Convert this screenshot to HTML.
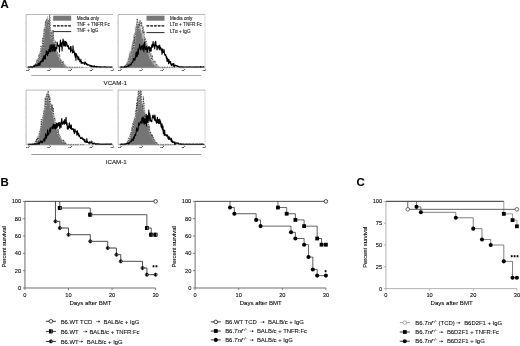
<!DOCTYPE html>
<html><head><meta charset="utf-8"><title>Figure</title>
<style>html,body{margin:0;padding:0;background:#fff;overflow:hidden}svg{display:block;font-family:"Liberation Sans", sans-serif}text{stroke:#000;stroke-width:.09px}</style>
</head><body>
<svg width="520" height="346" viewBox="0 0 520 346">
<defs><filter id="soft" x="0" y="0" width="520" height="346" filterUnits="userSpaceOnUse"><feGaussianBlur stdDeviation="0.28"/></filter></defs>
<rect width="520" height="346" fill="#fff"/>
<g filter="url(#soft)">
<text x="0.6" y="8.2" font-size="11.4" font-weight="bold" fill="#000">A</text>
<text x="0.6" y="185.7" font-size="11.4" font-weight="bold" fill="#000">B</text>
<text x="356.4" y="186.2" font-size="11.4" font-weight="bold" fill="#000">C</text>
<path d="M26.1 67.6V14.5H113" fill="none" stroke="#a8a8a8" stroke-width="0.8"/>
<path d="M26.1 67.6H113" fill="none" stroke="#999" stroke-width="0.6"/>
<line x1="24.9" y1="58.75" x2="26.1" y2="58.75" stroke="#bbb" stroke-width="0.4"/>
<line x1="24.9" y1="49.9" x2="26.1" y2="49.9" stroke="#bbb" stroke-width="0.4"/>
<line x1="24.9" y1="41.05" x2="26.1" y2="41.05" stroke="#bbb" stroke-width="0.4"/>
<line x1="24.9" y1="32.2" x2="26.1" y2="32.2" stroke="#bbb" stroke-width="0.4"/>
<line x1="24.9" y1="23.35" x2="26.1" y2="23.35" stroke="#bbb" stroke-width="0.4"/>
<path d="M28.1 67.6L28.1 67.6L28.5 67.6L28.9 67.6L29.3 67.6L29.7 67.6L30.1 67.6L30.5 67.6L30.9 67.6L31.3 67.6L31.7 67.6L32.1 67.6L32.5 67.6L32.9 67.6L33.3 67.05L33.7 66.75L34.1 66.11L34.5 66.19L34.9 65.82L35.3 64.11L35.7 63.88L36.1 63.25L36.5 63.41L36.9 61.75L37.3 62.17L37.7 58.93L38.1 59.28L38.5 59.59L38.9 54.81L39.3 56.28L39.7 54.27L40.1 52.53L40.5 51.53L40.9 51.06L41.3 50.77L41.7 51.23L42.1 48.66L42.5 45.48L42.9 38.83L43.3 37.82L43.7 32.94L44.1 34.62L44.5 35.72L44.9 28.07L45.3 22L45.7 24.25L46.1 26.78L46.5 24.9L46.9 24.97L47.3 20.32L47.7 16.1L48.1 20.01L48.5 22.76L48.9 26.36L49.3 21.04L49.7 25.87L50.1 22.82L50.5 32.6L50.9 28.98L51.3 32.51L51.7 31.92L52.1 39.58L52.5 38.52L52.9 38.68L53.3 36.37L53.7 37.82L54.1 44.46L54.5 42.12L54.9 42.95L55.3 44.65L55.7 45.41L56.1 49.61L56.5 48.07L56.9 51.98L57.3 51.66L57.7 54.39L58.1 53.17L58.5 54.52L58.9 57.69L59.3 59.86L59.7 56.72L60.1 60.27L60.5 59.59L60.9 59.2L61.3 61.41L61.7 61.81L62.1 65.29L62.5 63.07L62.9 63.04L63.3 65.14L63.7 63.42L64.1 63.57L64.5 66.09L64.9 65.31L65.3 65.56L65.7 66.47L66.1 65.71L66.5 66.71L66.9 67.6L67.3 67.6L67.7 67.6L68.1 67.6L68.5 67.6L68.9 67.6L69.3 67.6L69.7 67.6L70.1 67.6L70.5 67.6L70.9 67.6L71.3 67.6L71.7 67.6L72.1 67.6L72.5 67.6L72.9 67.6L73.3 67.6L73.7 67.6L74.1 67.6L74.5 67.6L74.9 67.6L75.3 67.6L75.7 67.6L76.1 67.6L76.5 67.6L76.9 67.6L77.3 67.6L77.7 67.6L78.1 67.6L78.5 67.6L78.9 67.6L79.3 67.6L79.7 67.6L80.1 67.6L80.5 67.6L80.9 67.6L81.3 67.6L81.7 67.6L82.1 67.6L82.5 67.6L82.9 67.6L83.3 67.6L83.7 67.6L84.1 67.6L84.1 67.6Z" fill="#b8b8b8" stroke="#aaa" stroke-width="0.4" stroke-linejoin="round"/>
<path d="M29.1 67.6L29.1 67.6L29.5 67.6L29.9 67.6L30.3 67.6L30.7 67.6L31.1 67.6L31.5 67.6L31.9 67.6L32.3 67.6L32.7 67.6L33.1 67.5L33.5 67.24L33.9 66.08L34.3 66.37L34.7 65.11L35.1 64.98L35.5 64.67L35.9 63.43L36.3 63.53L36.7 61.83L37.1 60.37L37.5 59.09L37.9 59.26L38.3 58.13L38.7 57.9L39.1 56.16L39.5 54.75L39.9 53.4L40.3 52.63L40.7 50.47L41.1 49.32L41.5 48.28L41.9 46.65L42.3 45.61L42.7 41.03L43.1 38.72L43.5 37.32L43.9 31.04L44.3 28.74L44.7 30.08L45.1 27L45.5 23.7L45.9 28.77L46.3 24.55L46.7 21.09L47.1 21.2L47.5 23.59L47.9 18.06L48.3 24.46L48.7 23.8L49.1 23.56L49.5 29.79L49.9 26.9L50.3 29.54L50.7 31.76L51.1 34.14L51.5 32.66L51.9 34.12L52.3 39.15L52.7 36.82L53.1 38.63L53.5 42.41L53.9 43.35L54.3 43.08L54.7 46.26L55.1 50.36L55.5 47.96L55.9 50.13L56.3 52.3L56.7 53.53L57.1 55.73L57.5 53.88L57.9 55.95L58.3 55.53L58.7 56.72L59.1 59.13L59.5 60.33L59.9 60.64L60.3 59.16L60.7 60.11L61.1 62.26L61.5 62.79L61.9 62.12L62.3 64.61L62.7 63.71L63.1 64.52L63.5 64.57L63.9 65.39L64.3 66.1L64.7 66.25L65.1 66.47L65.5 66.9L65.9 67.48L66.3 67.6L66.7 67.54L67.1 67.6L67.5 67.6L67.9 67.6L68.3 67.6L68.7 67.6L69.1 67.6L69.5 67.6L69.9 67.6L70.3 67.6L70.7 67.6L71.1 67.6L71.5 67.6L71.9 67.6L72.3 67.6L72.7 67.6L73.1 67.6L73.5 67.6L73.9 67.6L74.3 67.6L74.7 67.6L75.1 67.6L75.5 67.6L75.9 67.6L76.3 67.6L76.7 67.6L77.1 67.6L77.5 67.6L77.9 67.6L77.9 67.6Z" fill="#757575" stroke="#7d7d7d" stroke-width="0.3" stroke-linejoin="round"/>
<polyline points="29.1,67.19 29.46,67.26 29.82,67.19 30.18,67.15 30.54,67.2 30.9,67.22 31.26,67.18 31.62,67.13 31.98,67.06 32.34,67.19 32.7,66.84 33.06,67.23 33.42,67.08 33.78,66.99 34.14,66.57 34.5,65.55 34.86,64.57 35.22,66.6 35.58,63.71 35.94,65.56 36.3,62.93 36.66,59.85 37.02,60.57 37.38,61.66 37.74,61.18 38.1,58.84 38.46,58.32 38.82,54.37 39.18,54.84 39.54,56.64 39.9,60.69 40.26,52.08 40.62,49.93 40.98,45.46 41.34,47.39 41.7,47.28 42.06,46.06 42.42,45.96 42.78,37.42 43.14,41.73 43.5,47.46 43.86,36.85 44.22,28.93 44.58,30.69 44.94,30.81 45.3,23.3 45.66,20.76 46.02,25.95 46.38,22.72 46.74,18.8 47.1,23.1 47.46,25.03 47.82,22.78 48.18,24.1 48.54,21.63 48.9,19.73 49.26,28.96 49.62,14.8 49.98,16.7 50.34,36.71 50.7,36.6 51.06,39.26 51.42,31.97 51.78,32.6 52.14,30.55 52.5,37.81 52.86,41.55 53.22,30.12 53.58,39.45 53.94,39.53 54.3,42.42 54.66,47.13 55.02,44.1 55.38,40.79 55.74,47.54 56.1,45.61 56.46,50.82 56.82,52.6 57.18,53.51 57.54,51.91 57.9,56.07 58.26,56.23 58.62,57.25 58.98,57.14 59.34,55.34 59.7,54.24 60.06,60.57 60.42,59.2 60.78,60.45 61.14,60.41 61.5,60.23 61.86,62.37 62.22,64.8 62.58,61.67 62.94,63.5 63.3,61.43 63.66,64.71 64.02,65.3 64.38,66.31 64.74,64.42 65.1,64.61 65.46,65.35 65.82,67.17 66.18,66.48 66.54,66.43 66.9,67.07 67.26,67.13 67.62,67.21 67.98,67.27 68.34,67 68.7,67.29 69.06,67.02 69.42,67.13 69.78,67.07 70.14,67.25 70.5,67.07 70.86,67.26 71.22,67.29 71.58,67.17 71.94,67.29 72.3,67.17 72.66,67.26 73.02,67.15 73.38,67.22 73.74,67.13 74.1,67.2 74.46,67.19 74.82,67.16 75.18,67.11 75.54,67.2 75.9,67.26 76.26,67.18 76.62,67.29 76.98,67.22 77.34,67.13 77.7,67.25 78.06,67.21 78.42,67.28 78.78,67.14 79.14,67.29 79.5,67.1 79.86,67.24 80.22,67.24 80.58,67.21 80.94,67.15 81.3,67.14 81.66,67.09 82.02,67.25 82.38,67.26 82.74,67.24 83.1,67.22 83.46,67.28 83.82,67.21" fill="none" stroke="#fff" stroke-width="0.7" stroke-linejoin="round"/>
<polyline points="29.1,67.19 29.46,67.26 29.82,67.19 30.18,67.15 30.54,67.2 30.9,67.22 31.26,67.18 31.62,67.13 31.98,67.06 32.34,67.19 32.7,66.84 33.06,67.23 33.42,67.08 33.78,66.99 34.14,66.57 34.5,65.55 34.86,64.57 35.22,66.6 35.58,63.71 35.94,65.56 36.3,62.93 36.66,59.85 37.02,60.57 37.38,61.66 37.74,61.18 38.1,58.84 38.46,58.32 38.82,54.37 39.18,54.84 39.54,56.64 39.9,60.69 40.26,52.08 40.62,49.93 40.98,45.46 41.34,47.39 41.7,47.28 42.06,46.06 42.42,45.96 42.78,37.42 43.14,41.73 43.5,47.46 43.86,36.85 44.22,28.93 44.58,30.69 44.94,30.81 45.3,23.3 45.66,20.76 46.02,25.95 46.38,22.72 46.74,18.8 47.1,23.1 47.46,25.03 47.82,22.78 48.18,24.1 48.54,21.63 48.9,19.73 49.26,28.96 49.62,14.8 49.98,16.7 50.34,36.71 50.7,36.6 51.06,39.26 51.42,31.97 51.78,32.6 52.14,30.55 52.5,37.81 52.86,41.55 53.22,30.12 53.58,39.45 53.94,39.53 54.3,42.42 54.66,47.13 55.02,44.1 55.38,40.79 55.74,47.54 56.1,45.61 56.46,50.82 56.82,52.6 57.18,53.51 57.54,51.91 57.9,56.07 58.26,56.23 58.62,57.25 58.98,57.14 59.34,55.34 59.7,54.24 60.06,60.57 60.42,59.2 60.78,60.45 61.14,60.41 61.5,60.23 61.86,62.37 62.22,64.8 62.58,61.67 62.94,63.5 63.3,61.43 63.66,64.71 64.02,65.3 64.38,66.31 64.74,64.42 65.1,64.61 65.46,65.35 65.82,67.17 66.18,66.48 66.54,66.43 66.9,67.07 67.26,67.13 67.62,67.21 67.98,67.27 68.34,67 68.7,67.29 69.06,67.02 69.42,67.13 69.78,67.07 70.14,67.25 70.5,67.07 70.86,67.26 71.22,67.29 71.58,67.17 71.94,67.29 72.3,67.17 72.66,67.26 73.02,67.15 73.38,67.22 73.74,67.13 74.1,67.2 74.46,67.19 74.82,67.16 75.18,67.11 75.54,67.2 75.9,67.26 76.26,67.18 76.62,67.29 76.98,67.22 77.34,67.13 77.7,67.25 78.06,67.21 78.42,67.28 78.78,67.14 79.14,67.29 79.5,67.1 79.86,67.24 80.22,67.24 80.58,67.21 80.94,67.15 81.3,67.14 81.66,67.09 82.02,67.25 82.38,67.26 82.74,67.24 83.1,67.22 83.46,67.28 83.82,67.21" fill="none" stroke="#111" stroke-width="0.62" stroke-dasharray="1.5 1.0" stroke-linejoin="round"/>
<polyline points="28.1,67.09 28.43,66.92 28.76,66.84 29.09,66.95 29.42,67.1 29.75,66.99 30.08,66.99 30.41,66.73 30.74,66.88 31.07,67.1 31.4,66.91 31.73,66.84 32.06,66.55 32.39,66.87 32.72,67.1 33.05,66.92 33.38,66.71 33.71,66.04 34.04,65.33 34.37,66.69 34.7,66.05 35.03,65.71 35.36,66.03 35.69,65.78 36.02,64.8 36.35,64.91 36.68,65.98 37.01,65.56 37.34,65.59 37.67,65.52 38,63.7 38.33,65.19 38.66,63.18 38.99,65.21 39.32,64.87 39.65,62.72 39.98,65.27 40.31,62.69 40.64,61.29 40.97,62.31 41.3,61.39 41.63,61.74 41.96,60.12 42.29,61.7 42.62,59.83 42.95,58.16 43.28,61.18 43.61,57.99 43.94,55.65 44.27,58.67 44.6,56.52 44.93,55.8 45.26,59.11 45.59,54.39 45.92,55.09 46.25,50.79 46.58,51.51 46.91,54.19 47.24,53.09 47.57,55.62 47.9,51.24 48.23,53.36 48.56,53.4 48.89,49.46 49.22,50.42 49.55,51.45 49.88,46.82 50.21,45.08 50.54,51.45 50.87,51.82 51.2,49.73 51.53,48.33 51.86,44.43 52.19,46.83 52.52,51.27 52.85,45.82 53.18,51.08 53.51,46.52 53.84,44.54 54.17,44.69 54.5,51.11 54.83,48.64 55.16,47.09 55.49,50.75 55.82,48.72 56.15,48.33 56.48,47.26 56.81,48.98 57.14,42.14 57.47,43.75 57.8,45.08 58.13,46.1 58.46,46.13 58.79,45.62 59.12,45.83 59.45,51.99 59.78,44.15 60.11,45.96 60.44,39.98 60.77,43.75 61.1,46.68 61.43,44.41 61.76,42.78 62.09,50.99 62.42,41.69 62.75,43.55 63.08,39 63.41,41.76 63.74,45.97 64.07,41.02 64.4,43.15 64.73,45.86 65.06,44.39 65.39,41.28 65.72,46.2 66.05,41.99 66.38,42.33 66.71,43.1 67.04,44.35 67.37,46.79 67.7,45.71 68.03,45.55 68.36,45.93 68.69,48.95 69.02,49.01 69.35,48.34 69.68,48.91 70.01,49.2 70.34,46.5 70.67,52.18 71,46.57 71.33,50.09 71.66,50.02 71.99,50.69 72.32,50.8 72.65,53.03 72.98,45.86 73.31,50.16 73.64,52.35 73.97,50.91 74.3,51.97 74.63,54.93 74.96,55.56 75.29,57.32 75.62,53.02 75.95,60.28 76.28,53.79 76.61,54.66 76.94,56.21 77.27,55.87 77.6,57.09 77.93,59.42 78.26,59.93 78.59,56.7 78.92,58.91 79.25,58.72 79.58,59.77 79.91,61.9 80.24,61.52 80.57,60.57 80.9,59.33 81.23,63.49 81.56,61.42 81.89,62.08 82.22,62.17 82.55,63.48 82.88,63.15 83.21,62.44 83.54,62.96 83.87,63.06 84.2,63.45 84.53,64.41 84.86,61.8 85.19,63.08 85.52,62.28 85.85,63.47 86.18,64.63 86.51,63.4 86.84,64.07 87.17,64.78 87.5,65.11 87.83,64.25 88.16,65.14 88.49,64.83 88.82,64.99 89.15,65.09 89.48,65.16 89.81,66.06 90.14,66.21 90.47,65.53 90.8,65.31 91.13,66.41 91.46,66.7 91.79,65.65 92.12,65.97 92.45,66.34 92.78,66.7 93.11,66.1 93.44,66.87 93.77,67.03 94.1,65.77 94.43,66.03 94.76,66.29 95.09,66.89 95.42,66.67 95.75,66.75 96.08,66.43 96.41,66.8 96.74,66.33 97.07,66.98 97.4,66.71 97.73,66.79 98.06,67 98.39,66.79 98.72,66.8 99.05,66.81 99.38,66.98 99.71,66.75 100.04,66.9 100.37,67.1 100.7,66.74 101.03,66.82 101.36,67.02 101.69,66.92 102.02,66.94 102.35,67.01 102.68,66.94 103.01,67.02 103.34,67.05 103.67,67 104,66.62 104.33,66.9 104.66,67 104.99,66.91 105.32,66.9 105.65,66.87 105.98,66.96 106.31,67.07 106.64,67.03 106.97,67.1 107.3,66.94 107.63,67.1 107.96,67.01 108.29,67 108.62,67.07 108.95,67.02 109.28,67.06 109.61,67.05 109.94,67.06 110.27,67.08 110.6,67.1 110.93,67.09 111.26,67.07 111.59,66.85 111.92,67.06" fill="none" stroke="#000" stroke-width="1.1" stroke-linejoin="round" stroke-linecap="round"/>
<line x1="28.5" y1="67.6" x2="28.5" y2="68.9" stroke="#777" stroke-width="0.5"/>
<text x="27.9" y="70.8" font-size="2.5" fill="#333" stroke="none" text-anchor="middle">10<tspan dy="-0.9" font-size="1.7">0</tspan></text>
<line x1="49.62" y1="67.6" x2="49.62" y2="68.9" stroke="#777" stroke-width="0.5"/>
<text x="49.02" y="70.8" font-size="2.5" fill="#333" stroke="none" text-anchor="middle">10<tspan dy="-0.9" font-size="1.7">1</tspan></text>
<line x1="70.75" y1="67.6" x2="70.75" y2="68.9" stroke="#777" stroke-width="0.5"/>
<text x="70.15" y="70.8" font-size="2.5" fill="#333" stroke="none" text-anchor="middle">10<tspan dy="-0.9" font-size="1.7">2</tspan></text>
<line x1="91.88" y1="67.6" x2="91.88" y2="68.9" stroke="#777" stroke-width="0.5"/>
<text x="91.28" y="70.8" font-size="2.5" fill="#333" stroke="none" text-anchor="middle">10<tspan dy="-0.9" font-size="1.7">3</tspan></text>
<line x1="113" y1="67.6" x2="113" y2="68.9" stroke="#777" stroke-width="0.5"/>
<text x="112.4" y="70.8" font-size="2.5" fill="#333" stroke="none" text-anchor="middle">10<tspan dy="-0.9" font-size="1.7">4</tspan></text>
<rect x="53.2" y="15.7" width="18" height="5.0" fill="#787878"/>
<line x1="53.2" y1="25.9" x2="71.2" y2="25.9" stroke="#000" stroke-width="1.3" stroke-dasharray="2.7 1.05"/>
<line x1="53.2" y1="31.6" x2="71.2" y2="31.6" stroke="#000" stroke-width="0.85"/>
<text x="76.7" y="20.25" font-size="4.65" fill="#1a1a1a" stroke="none">Media only</text>
<text x="76.7" y="26.1" font-size="4.65" fill="#1a1a1a" stroke="none">TNF + TNFR:Fc</text>
<text x="76.7" y="31.95" font-size="4.65" fill="#1a1a1a" stroke="none">TNF + IgG</text>
<path d="M118.1 67.6V14.5H205" fill="none" stroke="#a8a8a8" stroke-width="0.8"/>
<path d="M118.1 67.6H205" fill="none" stroke="#999" stroke-width="0.6"/>
<path d="M205 14.5V67.6" fill="none" stroke="#cfcfcf" stroke-width="0.8"/>
<line x1="116.9" y1="58.75" x2="118.1" y2="58.75" stroke="#bbb" stroke-width="0.4"/>
<line x1="116.9" y1="49.9" x2="118.1" y2="49.9" stroke="#bbb" stroke-width="0.4"/>
<line x1="116.9" y1="41.05" x2="118.1" y2="41.05" stroke="#bbb" stroke-width="0.4"/>
<line x1="116.9" y1="32.2" x2="118.1" y2="32.2" stroke="#bbb" stroke-width="0.4"/>
<line x1="116.9" y1="23.35" x2="118.1" y2="23.35" stroke="#bbb" stroke-width="0.4"/>
<path d="M120.1 67.6L120.1 67.6L120.5 67.6L120.9 67.6L121.3 67.6L121.7 67.6L122.1 67.6L122.5 67.6L122.9 67.6L123.3 67.6L123.7 67.6L124.1 67.6L124.5 67.48L124.9 66.92L125.3 66.96L125.7 65.98L126.1 65.22L126.5 65.69L126.9 65.13L127.3 65.22L127.7 62.97L128.1 63.91L128.5 62.48L128.9 59.91L129.3 58.52L129.7 61.62L130.1 56.78L130.5 59.06L130.9 56.48L131.3 52.64L131.7 52.36L132.1 47.02L132.5 49.47L132.9 52.96L133.3 44.6L133.7 40.58L134.1 40.77L134.5 38.55L134.9 39.78L135.3 26.48L135.7 30.74L136.1 31.38L136.5 30.14L136.9 30.35L137.3 18.44L137.7 28.03L138.1 26.41L138.5 22.9L138.9 23.06L139.3 26.86L139.7 20.04L140.1 27.08L140.5 26.53L140.9 30.21L141.3 30.76L141.7 31.72L142.1 34.29L142.5 34.12L142.9 33.3L143.3 34.51L143.7 35.91L144.1 37.39L144.5 42.54L144.9 42.71L145.3 45.12L145.7 39.71L146.1 48.38L146.5 44.63L146.9 47.64L147.3 53.18L147.7 49.85L148.1 54.58L148.5 52.12L148.9 53.2L149.3 56.17L149.7 54.15L150.1 58.47L150.5 55.87L150.9 57.41L151.3 58.29L151.7 59.73L152.1 59.79L152.5 59.2L152.9 60.02L153.3 60.72L153.7 62.76L154.1 64.92L154.5 65.07L154.9 62.07L155.3 64.06L155.7 63.57L156.1 64.85L156.5 64.16L156.9 65.04L157.3 67.09L157.7 66.56L158.1 65.59L158.5 66.7L158.9 66.67L159.3 67.6L159.7 67.6L160.1 67.6L160.5 67.6L160.9 67.6L161.3 67.6L161.7 67.6L162.1 67.6L162.5 67.6L162.9 67.6L163.3 67.6L163.7 67.6L164.1 67.6L164.5 67.6L164.9 67.6L165.3 67.6L165.7 67.6L166.1 67.6L166.5 67.6L166.9 67.6L167.3 67.6L167.7 67.6L168.1 67.6L168.5 67.6L168.9 67.6L169.3 67.6L169.7 67.6L170.1 67.6L170.5 67.6L170.9 67.6L171.3 67.6L171.7 67.6L172.1 67.6L172.5 67.6L172.9 67.6L173.3 67.6L173.7 67.6L174.1 67.6L174.5 67.6L174.9 67.6L175.3 67.6L175.7 67.6L176.1 67.6L176.1 67.6Z" fill="#b8b8b8" stroke="#aaa" stroke-width="0.4" stroke-linejoin="round"/>
<path d="M121.1 67.6L121.1 67.6L121.5 67.6L121.9 67.6L122.3 67.6L122.7 67.6L123.1 67.6L123.5 67.3L123.9 67.25L124.3 66.2L124.7 66.44L125.1 65.66L125.5 65.17L125.9 64.64L126.3 64.26L126.7 62.27L127.1 63.45L127.5 61.76L127.9 60.15L128.3 58.02L128.7 57.87L129.1 55.8L129.5 53.13L129.9 52.32L130.3 50.83L130.7 55.39L131.1 52.11L131.5 48.08L131.9 45.31L132.3 44.41L132.7 41.55L133.1 40.47L133.5 39.8L133.9 34.52L134.3 36.37L134.7 32.67L135.1 32.71L135.5 31.71L135.9 27.84L136.3 24.63L136.7 22.33L137.1 24.28L137.5 25.94L137.9 24.7L138.3 24.55L138.7 24.69L139.1 30.24L139.5 30.47L139.9 28.55L140.3 28.98L140.7 33.13L141.1 34.06L141.5 33.1L141.9 39.23L142.3 39.06L142.7 38.19L143.1 39.48L143.5 42.94L143.9 46.49L144.3 44.13L144.7 46.43L145.1 47.6L145.5 48.24L145.9 51.38L146.3 48.16L146.7 50.13L147.1 52.76L147.5 52.56L147.9 55.15L148.3 54.98L148.7 54.5L149.1 57.03L149.5 59.03L149.9 59.72L150.3 59.65L150.7 58.36L151.1 60.35L151.5 61.43L151.9 62.34L152.3 61.95L152.7 64.37L153.1 64.14L153.5 64.5L153.9 64.29L154.3 65.75L154.7 66.26L155.1 65.1L155.5 66.37L155.9 67.15L156.3 66.79L156.7 66.37L157.1 67.44L157.5 67.23L157.9 67.6L158.3 67.6L158.7 67.6L159.1 67.6L159.5 67.6L159.9 67.6L160.3 67.6L160.7 67.6L161.1 67.6L161.5 67.6L161.9 67.6L162.3 67.6L162.7 67.6L163.1 67.6L163.5 67.6L163.9 67.6L164.3 67.6L164.7 67.6L165.1 67.6L165.5 67.6L165.9 67.6L166.3 67.6L166.7 67.6L167.1 67.6L167.5 67.6L167.9 67.6L168.3 67.6L168.7 67.6L169.1 67.6L169.5 67.6L169.9 67.6L169.9 67.6Z" fill="#757575" stroke="#7d7d7d" stroke-width="0.3" stroke-linejoin="round"/>
<polyline points="121.1,67.29 121.46,67.3 121.82,67.24 122.18,67.2 122.54,67.27 122.9,67.29 123.26,67.16 123.62,67.16 123.98,67.08 124.34,67.18 124.7,67.3 125.06,66.65 125.42,65.11 125.78,64.94 126.14,65.78 126.5,64.49 126.86,63.46 127.22,63.53 127.58,66.48 127.94,63.92 128.3,63.77 128.66,62.57 129.02,59.55 129.38,58.12 129.74,55.98 130.1,56.96 130.46,57.99 130.82,59.35 131.18,51.86 131.54,52.47 131.9,53.37 132.26,47.75 132.62,49.21 132.98,50.85 133.34,47.32 133.7,43.1 134.06,47.93 134.42,36.5 134.78,43.4 135.14,36.52 135.5,32.93 135.86,32.94 136.22,28.53 136.58,26.09 136.94,22.72 137.3,18.48 137.66,22.2 138.02,23.07 138.38,24.73 138.74,28.37 139.1,22.52 139.46,26.27 139.82,21.45 140.18,20.25 140.54,23.19 140.9,25.15 141.26,26.73 141.62,21.89 141.98,25.65 142.34,30.58 142.7,33.31 143.06,26.41 143.42,33.47 143.78,33.61 144.14,31.2 144.5,42.76 144.86,39.18 145.22,37.71 145.58,42.67 145.94,42.6 146.3,41.44 146.66,42.56 147.02,48.61 147.38,45.43 147.74,45.82 148.1,49.73 148.46,50.7 148.82,54.44 149.18,50.59 149.54,53.17 149.9,51.64 150.26,56.33 150.62,56.04 150.98,53.58 151.34,56.47 151.7,59.62 152.06,56.17 152.42,55.18 152.78,60.47 153.14,62.12 153.5,62.17 153.86,63.37 154.22,60.77 154.58,62 154.94,62.11 155.3,61.34 155.66,63.14 156.02,64.66 156.38,63.86 156.74,64.01 157.1,65.5 157.46,65.32 157.82,66.53 158.18,66.36 158.54,66.22 158.9,66.66 159.26,67.08 159.62,67.22 159.98,67.23 160.34,67.25 160.7,67.17 161.06,67.09 161.42,67.29 161.78,67.18 162.14,67.28 162.5,67.3 162.86,67.21 163.22,67.19 163.58,67.1 163.94,67.25 164.3,67.15 164.66,67.28 165.02,67.26 165.38,67.29 165.74,67.27 166.1,67.27 166.46,67.23 166.82,67.19 167.18,67.04 167.54,67.04 167.9,67.04 168.26,67.17 168.62,67.1 168.98,67.1 169.34,67.17 169.7,67.21 170.06,67.13 170.42,67.3 170.78,67.19 171.14,67.17 171.5,67.15 171.86,67.17 172.22,67.21 172.58,67.17 172.94,67.21 173.3,67.26 173.66,67.2 174.02,67.21 174.38,67.2 174.74,67.25 175.1,67.18 175.46,67.27 175.82,67.27" fill="none" stroke="#fff" stroke-width="0.7" stroke-linejoin="round"/>
<polyline points="121.1,67.29 121.46,67.3 121.82,67.24 122.18,67.2 122.54,67.27 122.9,67.29 123.26,67.16 123.62,67.16 123.98,67.08 124.34,67.18 124.7,67.3 125.06,66.65 125.42,65.11 125.78,64.94 126.14,65.78 126.5,64.49 126.86,63.46 127.22,63.53 127.58,66.48 127.94,63.92 128.3,63.77 128.66,62.57 129.02,59.55 129.38,58.12 129.74,55.98 130.1,56.96 130.46,57.99 130.82,59.35 131.18,51.86 131.54,52.47 131.9,53.37 132.26,47.75 132.62,49.21 132.98,50.85 133.34,47.32 133.7,43.1 134.06,47.93 134.42,36.5 134.78,43.4 135.14,36.52 135.5,32.93 135.86,32.94 136.22,28.53 136.58,26.09 136.94,22.72 137.3,18.48 137.66,22.2 138.02,23.07 138.38,24.73 138.74,28.37 139.1,22.52 139.46,26.27 139.82,21.45 140.18,20.25 140.54,23.19 140.9,25.15 141.26,26.73 141.62,21.89 141.98,25.65 142.34,30.58 142.7,33.31 143.06,26.41 143.42,33.47 143.78,33.61 144.14,31.2 144.5,42.76 144.86,39.18 145.22,37.71 145.58,42.67 145.94,42.6 146.3,41.44 146.66,42.56 147.02,48.61 147.38,45.43 147.74,45.82 148.1,49.73 148.46,50.7 148.82,54.44 149.18,50.59 149.54,53.17 149.9,51.64 150.26,56.33 150.62,56.04 150.98,53.58 151.34,56.47 151.7,59.62 152.06,56.17 152.42,55.18 152.78,60.47 153.14,62.12 153.5,62.17 153.86,63.37 154.22,60.77 154.58,62 154.94,62.11 155.3,61.34 155.66,63.14 156.02,64.66 156.38,63.86 156.74,64.01 157.1,65.5 157.46,65.32 157.82,66.53 158.18,66.36 158.54,66.22 158.9,66.66 159.26,67.08 159.62,67.22 159.98,67.23 160.34,67.25 160.7,67.17 161.06,67.09 161.42,67.29 161.78,67.18 162.14,67.28 162.5,67.3 162.86,67.21 163.22,67.19 163.58,67.1 163.94,67.25 164.3,67.15 164.66,67.28 165.02,67.26 165.38,67.29 165.74,67.27 166.1,67.27 166.46,67.23 166.82,67.19 167.18,67.04 167.54,67.04 167.9,67.04 168.26,67.17 168.62,67.1 168.98,67.1 169.34,67.17 169.7,67.21 170.06,67.13 170.42,67.3 170.78,67.19 171.14,67.17 171.5,67.15 171.86,67.17 172.22,67.21 172.58,67.17 172.94,67.21 173.3,67.26 173.66,67.2 174.02,67.21 174.38,67.2 174.74,67.25 175.1,67.18 175.46,67.27 175.82,67.27" fill="none" stroke="#111" stroke-width="0.62" stroke-dasharray="1.5 1.0" stroke-linejoin="round"/>
<polyline points="120.1,66.94 120.43,67.05 120.76,66.97 121.09,67 121.42,67.1 121.75,66.81 122.08,66.96 122.41,67.06 122.74,67.05 123.07,67.1 123.4,66.95 123.73,66.98 124.06,67.1 124.39,66.65 124.72,66.91 125.05,66.96 125.38,66.81 125.71,66.87 126.04,67 126.37,66.39 126.7,66.7 127.03,66.55 127.36,66.09 127.69,65.91 128.02,66.19 128.35,66.43 128.68,64.85 129.01,65.4 129.34,65.81 129.67,65.61 130,65.29 130.33,64.16 130.66,64.65 130.99,64.76 131.32,64.58 131.65,63.15 131.98,62.67 132.31,62.25 132.64,61.7 132.97,62.13 133.3,59.41 133.63,58.45 133.96,58.51 134.29,58.97 134.62,60.37 134.95,60.02 135.28,56.97 135.61,58.07 135.94,52.79 136.27,56.61 136.6,52.05 136.93,52.32 137.26,56.34 137.59,52.57 137.92,49.07 138.25,54.3 138.58,50.25 138.91,48.73 139.24,47.76 139.57,44.22 139.9,45.59 140.23,49.06 140.56,47.04 140.89,50.1 141.22,47.81 141.55,46.2 141.88,46.61 142.21,45.41 142.54,49.39 142.87,48.23 143.2,45.09 143.53,45.06 143.86,51.65 144.19,42.93 144.52,44.55 144.85,42.19 145.18,48.88 145.51,48.38 145.84,49.99 146.17,48.19 146.5,46.08 146.83,47.65 147.16,52.42 147.49,51.4 147.82,49.69 148.15,48.26 148.48,46.78 148.81,47.91 149.14,46.69 149.47,50.54 149.8,47.06 150.13,51.11 150.46,49.11 150.79,48.03 151.12,51.09 151.45,47.14 151.78,45.65 152.11,44.3 152.44,44.69 152.77,47.38 153.1,41.61 153.43,45.08 153.76,45.8 154.09,45.07 154.42,46.34 154.75,48.98 155.08,42.4 155.41,42.76 155.74,41.25 156.07,46.08 156.4,45.45 156.73,45.62 157.06,49.98 157.39,47.72 157.72,46.17 158.05,47.9 158.38,45.68 158.71,47.2 159.04,47.58 159.37,49.82 159.7,45.15 160.03,47.39 160.36,48.85 160.69,47.51 161.02,50.16 161.35,48.86 161.68,50.38 162.01,54.32 162.34,48.78 162.67,51.32 163,52.69 163.33,52.73 163.66,52.17 163.99,49.32 164.32,51.72 164.65,54.33 164.98,55.33 165.31,55.47 165.64,54.45 165.97,55.7 166.3,58.21 166.63,56.6 166.96,61.1 167.29,60.18 167.62,58.24 167.95,61.78 168.28,59.54 168.61,63.6 168.94,59.56 169.27,62.72 169.6,61.23 169.93,63.06 170.26,61.55 170.59,61.58 170.92,64.93 171.25,63.66 171.58,65.62 171.91,64.33 172.24,64.75 172.57,64.38 172.9,63.53 173.23,66.16 173.56,65.29 173.89,63.56 174.22,66.63 174.55,66.19 174.88,65.51 175.21,65.03 175.54,65.74 175.87,65.72 176.2,65.93 176.53,65.51 176.86,65.83 177.19,66.47 177.52,65.88 177.85,66 178.18,66.5 178.51,66.72 178.84,66.46 179.17,67.1 179.5,66.97 179.83,66.87 180.16,67.1 180.49,66.73 180.82,66.69 181.15,66.9 181.48,66.89 181.81,66.92 182.14,67.1 182.47,67.1 182.8,66.88 183.13,66.87 183.46,67.1 183.79,66.99 184.12,66.89 184.45,66.94 184.78,67.07 185.11,67.01 185.44,66.96 185.77,66.94 186.1,66.88 186.43,66.85 186.76,67.02 187.09,66.97 187.42,67.04 187.75,67.1 188.08,67.02 188.41,67.07 188.74,67.04 189.07,66.85 189.4,66.93 189.73,66.78 190.06,66.81 190.39,67.04 190.72,67.06 191.05,66.92 191.38,66.94 191.71,67.09 192.04,66.98 192.37,66.93 192.7,67.09 193.03,66.83 193.36,66.86 193.69,67.06 194.02,67.08 194.35,66.95 194.68,67.1 195.01,67.08 195.34,67.08 195.67,66.94 196,66.64 196.33,66.82 196.66,67.03 196.99,66.99 197.32,67.08 197.65,66.87 197.98,66.87 198.31,67 198.64,67 198.97,66.92 199.3,66.98 199.63,67.07 199.96,67.1 200.29,66.66 200.62,67.09 200.95,66.68 201.28,66.92 201.61,67.04 201.94,67.01 202.27,67.04 202.6,67.05 202.93,67.04 203.26,66.76 203.59,66.87 203.92,66.9" fill="none" stroke="#000" stroke-width="1.1" stroke-linejoin="round" stroke-linecap="round"/>
<line x1="120.5" y1="67.6" x2="120.5" y2="68.9" stroke="#777" stroke-width="0.5"/>
<text x="119.9" y="70.8" font-size="2.5" fill="#333" stroke="none" text-anchor="middle">10<tspan dy="-0.9" font-size="1.7">0</tspan></text>
<line x1="141.62" y1="67.6" x2="141.62" y2="68.9" stroke="#777" stroke-width="0.5"/>
<text x="141.03" y="70.8" font-size="2.5" fill="#333" stroke="none" text-anchor="middle">10<tspan dy="-0.9" font-size="1.7">1</tspan></text>
<line x1="162.75" y1="67.6" x2="162.75" y2="68.9" stroke="#777" stroke-width="0.5"/>
<text x="162.15" y="70.8" font-size="2.5" fill="#333" stroke="none" text-anchor="middle">10<tspan dy="-0.9" font-size="1.7">2</tspan></text>
<line x1="183.88" y1="67.6" x2="183.88" y2="68.9" stroke="#777" stroke-width="0.5"/>
<text x="183.28" y="70.8" font-size="2.5" fill="#333" stroke="none" text-anchor="middle">10<tspan dy="-0.9" font-size="1.7">3</tspan></text>
<line x1="205" y1="67.6" x2="205" y2="68.9" stroke="#777" stroke-width="0.5"/>
<text x="204.4" y="70.8" font-size="2.5" fill="#333" stroke="none" text-anchor="middle">10<tspan dy="-0.9" font-size="1.7">4</tspan></text>
<rect x="146.5" y="15.7" width="18" height="5.0" fill="#787878"/>
<line x1="146.5" y1="25.9" x2="164.5" y2="25.9" stroke="#000" stroke-width="1.3" stroke-dasharray="2.7 1.05"/>
<line x1="146.5" y1="32.6" x2="164.5" y2="32.6" stroke="#000" stroke-width="0.85"/>
<text x="170" y="20.25" font-size="4.65" fill="#1a1a1a" stroke="none">Media only</text>
<text x="170" y="26.1" font-size="4.65" fill="#1a1a1a" stroke="none">LTα + TNFR:Fc</text>
<text x="170" y="32.95" font-size="4.65" fill="#1a1a1a" stroke="none">LTα + IgG</text>
<path d="M26.1 144.8V90.1H113" fill="none" stroke="#a8a8a8" stroke-width="0.8"/>
<path d="M26.1 144.8H113" fill="none" stroke="#999" stroke-width="0.6"/>
<line x1="24.9" y1="135.68" x2="26.1" y2="135.68" stroke="#bbb" stroke-width="0.4"/>
<line x1="24.9" y1="126.57" x2="26.1" y2="126.57" stroke="#bbb" stroke-width="0.4"/>
<line x1="24.9" y1="117.45" x2="26.1" y2="117.45" stroke="#bbb" stroke-width="0.4"/>
<line x1="24.9" y1="108.33" x2="26.1" y2="108.33" stroke="#bbb" stroke-width="0.4"/>
<line x1="24.9" y1="99.22" x2="26.1" y2="99.22" stroke="#bbb" stroke-width="0.4"/>
<path d="M28.1 144.8L28.1 144.8L28.5 144.8L28.9 144.8L29.3 144.8L29.7 144.8L30.1 144.8L30.5 144.8L30.9 144.8L31.3 144.8L31.7 144.8L32.1 144.8L32.5 144.8L32.9 144.8L33.3 144.8L33.7 144.8L34.1 143.35L34.5 143.78L34.9 144.05L35.3 143.83L35.7 142.86L36.1 140.78L36.5 143.37L36.9 141.1L37.3 139.17L37.7 135.88L38.1 139.54L38.5 136.12L38.9 133.31L39.3 133.43L39.7 132.14L40.1 133.16L40.5 132.58L40.9 126.64L41.3 125.51L41.7 122.84L42.1 122.53L42.5 122.84L42.9 118.76L43.3 119.34L43.7 114.21L44.1 108.43L44.5 110.52L44.9 105.29L45.3 101.62L45.7 98.06L46.1 97.91L46.5 102.36L46.9 98.78L47.3 95.81L47.7 94.76L48.1 92.29L48.5 98.76L48.9 95.41L49.3 94.66L49.7 101.25L50.1 97.22L50.5 103.18L50.9 103.51L51.3 104.12L51.7 108.47L52.1 109.45L52.5 104.01L52.9 115.17L53.3 113.04L53.7 116.82L54.1 117.94L54.5 125.41L54.9 116.87L55.3 122.54L55.7 123.72L56.1 127.24L56.5 125.72L56.9 123.79L57.3 131.12L57.7 130.62L58.1 133.62L58.5 135.38L58.9 134.94L59.3 134.32L59.7 136.19L60.1 137.72L60.5 135.84L60.9 138.83L61.3 139.85L61.7 138.73L62.1 140.1L62.5 141.27L62.9 144.48L63.3 143.05L63.7 142.02L64.1 142.64L64.5 141.37L64.9 142.22L65.3 143.81L65.7 143.48L66.1 144.4L66.5 144.73L66.9 144.8L67.3 144.8L67.7 144.8L68.1 144.8L68.5 144.8L68.9 144.8L69.3 144.8L69.7 144.8L70.1 144.8L70.5 144.8L70.9 144.8L71.3 144.8L71.7 144.8L72.1 144.8L72.5 144.8L72.9 144.8L73.3 144.8L73.7 144.8L74.1 144.8L74.5 144.8L74.9 144.8L75.3 144.8L75.7 144.8L76.1 144.8L76.5 144.8L76.9 144.8L77.3 144.8L77.7 144.8L78.1 144.8L78.5 144.8L78.9 144.8L79.3 144.8L79.7 144.8L80.1 144.8L80.5 144.8L80.9 144.8L81.3 144.8L81.7 144.8L82.1 144.8L82.5 144.8L82.9 144.8L83.3 144.8L83.7 144.8L84.1 144.8L84.1 144.8Z" fill="#b8b8b8" stroke="#aaa" stroke-width="0.4" stroke-linejoin="round"/>
<path d="M29.1 144.8L29.1 144.8L29.5 144.8L29.9 144.8L30.3 144.8L30.7 144.8L31.1 144.8L31.5 144.8L31.9 144.8L32.3 144.8L32.7 144.8L33.1 144.8L33.5 144.68L33.9 144.2L34.3 143.72L34.7 143.49L35.1 144.08L35.5 142.75L35.9 141.21L36.3 141.37L36.7 139.75L37.1 136.71L37.5 139.49L37.9 139.04L38.3 137.05L38.7 136.83L39.1 133.68L39.5 131.47L39.9 132.18L40.3 128.17L40.7 127.19L41.1 127.29L41.5 125.84L41.9 123.56L42.3 121.88L42.7 120.78L43.1 120.44L43.5 112.09L43.9 113.05L44.3 113.65L44.7 108.22L45.1 100.29L45.5 96.45L45.9 99.48L46.3 98.25L46.7 98.76L47.1 98.5L47.5 92.84L47.9 94.09L48.3 97.64L48.7 97.54L49.1 100.42L49.5 99.6L49.9 104.78L50.3 108.04L50.7 108.18L51.1 105.87L51.5 110.05L51.9 110.72L52.3 115.26L52.7 114.78L53.1 115.29L53.5 118.44L53.9 119.9L54.3 121.1L54.7 124.89L55.1 124.93L55.5 126.61L55.9 125.21L56.3 128.88L56.7 131.25L57.1 129.21L57.5 131.58L57.9 131.62L58.3 133.07L58.7 133.3L59.1 135.79L59.5 136.35L59.9 137.08L60.3 138.86L60.7 138.67L61.1 139.63L61.5 140.75L61.9 140.47L62.3 141.81L62.7 142.8L63.1 140.38L63.5 142.53L63.9 142.42L64.3 143.43L64.7 143.31L65.1 144.22L65.5 144.48L65.9 144.66L66.3 144.8L66.7 144.8L67.1 144.8L67.5 144.8L67.9 144.8L68.3 144.8L68.7 144.8L69.1 144.8L69.5 144.8L69.9 144.8L70.3 144.8L70.7 144.8L71.1 144.8L71.5 144.8L71.9 144.8L72.3 144.8L72.7 144.8L73.1 144.8L73.5 144.8L73.9 144.8L74.3 144.8L74.7 144.8L75.1 144.8L75.5 144.8L75.9 144.8L76.3 144.8L76.7 144.8L77.1 144.8L77.5 144.8L77.9 144.8L77.9 144.8Z" fill="#757575" stroke="#7d7d7d" stroke-width="0.3" stroke-linejoin="round"/>
<polyline points="29.1,144.47 29.46,144.37 29.82,144.4 30.18,144.38 30.54,144.49 30.9,144.39 31.26,144.46 31.62,144.42 31.98,144.43 32.34,144.36 32.7,144.45 33.06,144.48 33.42,144.36 33.78,144.47 34.14,144.27 34.5,142.38 34.86,143.5 35.22,142.62 35.58,142.57 35.94,140.13 36.3,141.75 36.66,138.53 37.02,142.02 37.38,137.74 37.74,139.75 38.1,138.23 38.46,139.42 38.82,136.78 39.18,136.86 39.54,135.45 39.9,130.82 40.26,130.24 40.62,129.72 40.98,123.92 41.34,119.09 41.7,127.04 42.06,122.59 42.42,119.94 42.78,115.74 43.14,116.15 43.5,114.5 43.86,110.76 44.22,112.99 44.58,113.16 44.94,105.58 45.3,97.7 45.66,106.59 46.02,106.52 46.38,95.18 46.74,93.86 47.1,98.57 47.46,99.99 47.82,96.26 48.18,90.59 48.54,97.61 48.9,95.12 49.26,103.14 49.62,96.65 49.98,99.18 50.34,100.91 50.7,104.03 51.06,110.16 51.42,104.46 51.78,111.18 52.14,110.33 52.5,105.28 52.86,114.79 53.22,107.59 53.58,112.42 53.94,115.71 54.3,119.68 54.66,117.94 55.02,119.45 55.38,125.3 55.74,124.59 56.1,124.16 56.46,129.35 56.82,128.17 57.18,125.69 57.54,126.01 57.9,134.89 58.26,129.36 58.62,133.56 58.98,135.41 59.34,134.98 59.7,135.75 60.06,136.93 60.42,136.56 60.78,137.97 61.14,139.37 61.5,139.03 61.86,139.75 62.22,140.18 62.58,140.57 62.94,140.57 63.3,142.78 63.66,139.53 64.02,142.81 64.38,143.12 64.74,144.02 65.1,141.86 65.46,143.92 65.82,142.88 66.18,143.73 66.54,143.86 66.9,144.44 67.26,144.4 67.62,144.36 67.98,144.48 68.34,144.24 68.7,144.5 69.06,144.3 69.42,144.42 69.78,144.22 70.14,144.34 70.5,144.49 70.86,144.49 71.22,144.42 71.58,144.4 71.94,144.46 72.3,144.37 72.66,144.5 73.02,144.18 73.38,144.48 73.74,144.4 74.1,144.47 74.46,144.33 74.82,144.35 75.18,144.46 75.54,144.38 75.9,144.42 76.26,144.35 76.62,144.44 76.98,144.46 77.34,144.46 77.7,144.5 78.06,144.45 78.42,144.4 78.78,144.38 79.14,144.46 79.5,144.43 79.86,144.42 80.22,144.38 80.58,144.42 80.94,144.34 81.3,144.48 81.66,144.46 82.02,144.46 82.38,144.45 82.74,144.37 83.1,144.27 83.46,144.38 83.82,144.36" fill="none" stroke="#fff" stroke-width="0.7" stroke-linejoin="round"/>
<polyline points="29.1,144.47 29.46,144.37 29.82,144.4 30.18,144.38 30.54,144.49 30.9,144.39 31.26,144.46 31.62,144.42 31.98,144.43 32.34,144.36 32.7,144.45 33.06,144.48 33.42,144.36 33.78,144.47 34.14,144.27 34.5,142.38 34.86,143.5 35.22,142.62 35.58,142.57 35.94,140.13 36.3,141.75 36.66,138.53 37.02,142.02 37.38,137.74 37.74,139.75 38.1,138.23 38.46,139.42 38.82,136.78 39.18,136.86 39.54,135.45 39.9,130.82 40.26,130.24 40.62,129.72 40.98,123.92 41.34,119.09 41.7,127.04 42.06,122.59 42.42,119.94 42.78,115.74 43.14,116.15 43.5,114.5 43.86,110.76 44.22,112.99 44.58,113.16 44.94,105.58 45.3,97.7 45.66,106.59 46.02,106.52 46.38,95.18 46.74,93.86 47.1,98.57 47.46,99.99 47.82,96.26 48.18,90.59 48.54,97.61 48.9,95.12 49.26,103.14 49.62,96.65 49.98,99.18 50.34,100.91 50.7,104.03 51.06,110.16 51.42,104.46 51.78,111.18 52.14,110.33 52.5,105.28 52.86,114.79 53.22,107.59 53.58,112.42 53.94,115.71 54.3,119.68 54.66,117.94 55.02,119.45 55.38,125.3 55.74,124.59 56.1,124.16 56.46,129.35 56.82,128.17 57.18,125.69 57.54,126.01 57.9,134.89 58.26,129.36 58.62,133.56 58.98,135.41 59.34,134.98 59.7,135.75 60.06,136.93 60.42,136.56 60.78,137.97 61.14,139.37 61.5,139.03 61.86,139.75 62.22,140.18 62.58,140.57 62.94,140.57 63.3,142.78 63.66,139.53 64.02,142.81 64.38,143.12 64.74,144.02 65.1,141.86 65.46,143.92 65.82,142.88 66.18,143.73 66.54,143.86 66.9,144.44 67.26,144.4 67.62,144.36 67.98,144.48 68.34,144.24 68.7,144.5 69.06,144.3 69.42,144.42 69.78,144.22 70.14,144.34 70.5,144.49 70.86,144.49 71.22,144.42 71.58,144.4 71.94,144.46 72.3,144.37 72.66,144.5 73.02,144.18 73.38,144.48 73.74,144.4 74.1,144.47 74.46,144.33 74.82,144.35 75.18,144.46 75.54,144.38 75.9,144.42 76.26,144.35 76.62,144.44 76.98,144.46 77.34,144.46 77.7,144.5 78.06,144.45 78.42,144.4 78.78,144.38 79.14,144.46 79.5,144.43 79.86,144.42 80.22,144.38 80.58,144.42 80.94,144.34 81.3,144.48 81.66,144.46 82.02,144.46 82.38,144.45 82.74,144.37 83.1,144.27 83.46,144.38 83.82,144.36" fill="none" stroke="#111" stroke-width="0.62" stroke-dasharray="1.5 1.0" stroke-linejoin="round"/>
<polyline points="28.1,144.11 28.43,144.29 28.76,144.2 29.09,144.21 29.42,144.19 29.75,144.08 30.08,144.23 30.41,144.25 30.74,144.17 31.07,144.25 31.4,144.16 31.73,144.19 32.06,144.08 32.39,144.08 32.72,144.22 33.05,144.06 33.38,144.14 33.71,143.96 34.04,144.3 34.37,144.1 34.7,144.29 35.03,144.18 35.36,143.88 35.69,143.74 36.02,144.09 36.35,143.96 36.68,143.95 37.01,144.16 37.34,143.88 37.67,143.61 38,143.83 38.33,142.86 38.66,143.12 38.99,141.8 39.32,144.15 39.65,143.01 39.98,142.31 40.31,142.43 40.64,140.97 40.97,142.1 41.3,142.09 41.63,141.13 41.96,142.97 42.29,142.3 42.62,142.26 42.95,141.25 43.28,140.04 43.61,139.56 43.94,139.92 44.27,138.34 44.6,141.2 44.93,140.79 45.26,138.02 45.59,133.81 45.92,135.64 46.25,138.35 46.58,137.63 46.91,135.52 47.24,135.27 47.57,129.72 47.9,135.17 48.23,134.62 48.56,133.22 48.89,134.14 49.22,131.35 49.55,129.76 49.88,129.91 50.21,128.18 50.54,131.93 50.87,127.81 51.2,128 51.53,127.86 51.86,127.66 52.19,126.53 52.52,128.77 52.85,128.57 53.18,124.44 53.51,128.28 53.84,124.41 54.17,128.06 54.5,128.09 54.83,128.6 55.16,124.3 55.49,128.95 55.82,125.17 56.15,128.12 56.48,123.09 56.81,124.21 57.14,127.04 57.47,126.14 57.8,124.48 58.13,122.99 58.46,125.84 58.79,124.44 59.12,122.24 59.45,123.7 59.78,128.36 60.11,123.71 60.44,125 60.77,122.6 61.1,127.47 61.43,121.24 61.76,118.53 62.09,122.06 62.42,123.35 62.75,124.37 63.08,122.48 63.41,123.17 63.74,121.03 64.07,122.95 64.4,124.1 64.73,119.52 65.06,123.42 65.39,123.58 65.72,122.71 66.05,117.2 66.38,123.53 66.71,125.14 67.04,122.76 67.37,129.08 67.7,126 68.03,128.53 68.36,128.95 68.69,127.02 69.02,124.73 69.35,122.74 69.68,127.64 70.01,125.77 70.34,127.46 70.67,128.66 71,124.74 71.33,125.24 71.66,129.42 71.99,129.03 72.32,128.63 72.65,129.44 72.98,128.82 73.31,128.9 73.64,131.61 73.97,129.76 74.3,133.74 74.63,132.36 74.96,129.14 75.29,131.27 75.62,131.19 75.95,131.59 76.28,132.77 76.61,131.58 76.94,135.18 77.27,130.47 77.6,132.74 77.93,133.7 78.26,135.21 78.59,133.17 78.92,136.39 79.25,135.01 79.58,135.52 79.91,137.26 80.24,137.31 80.57,138.6 80.9,138.01 81.23,138.4 81.56,138.28 81.89,137.26 82.22,137.9 82.55,139.08 82.88,139.68 83.21,139.58 83.54,138.82 83.87,140.04 84.2,140.88 84.53,141.72 84.86,139.29 85.19,142.19 85.52,141.26 85.85,142.28 86.18,141.4 86.51,142.34 86.84,138.56 87.17,142.56 87.5,141.22 87.83,141.86 88.16,142.27 88.49,142.81 88.82,142.94 89.15,143.87 89.48,142.23 89.81,141.68 90.14,141.84 90.47,142.86 90.8,143.28 91.13,143.25 91.46,142.33 91.79,141.18 92.12,143.02 92.45,143.58 92.78,143.98 93.11,143.35 93.44,143.99 93.77,143.04 94.1,143.64 94.43,143.05 94.76,143.5 95.09,143.76 95.42,144.2 95.75,144.24 96.08,143.81 96.41,143.68 96.74,144.02 97.07,144.3 97.4,144.22 97.73,143.67 98.06,144.3 98.39,143.8 98.72,143.87 99.05,143.88 99.38,144.13 99.71,144.01 100.04,144.16 100.37,144.3 100.7,144.05 101.03,144.3 101.36,144.04 101.69,144.22 102.02,144.22 102.35,144.12 102.68,144.15 103.01,144.3 103.34,144.26 103.67,144.1 104,144.29 104.33,144.16 104.66,144.05 104.99,144.17 105.32,144.15 105.65,144.25 105.98,144.07 106.31,144.16 106.64,144.1 106.97,144.3 107.3,143.96 107.63,144.05 107.96,144.02 108.29,144.23 108.62,144.11 108.95,144.02 109.28,144.3 109.61,144.02 109.94,144.2 110.27,144.28 110.6,144.07 110.93,144.24 111.26,144.08 111.59,143.93 111.92,144.16" fill="none" stroke="#000" stroke-width="1.1" stroke-linejoin="round" stroke-linecap="round"/>
<line x1="28.5" y1="144.8" x2="28.5" y2="146.1" stroke="#777" stroke-width="0.5"/>
<text x="27.9" y="148" font-size="2.5" fill="#333" stroke="none" text-anchor="middle">10<tspan dy="-0.9" font-size="1.7">0</tspan></text>
<line x1="49.62" y1="144.8" x2="49.62" y2="146.1" stroke="#777" stroke-width="0.5"/>
<text x="49.02" y="148" font-size="2.5" fill="#333" stroke="none" text-anchor="middle">10<tspan dy="-0.9" font-size="1.7">1</tspan></text>
<line x1="70.75" y1="144.8" x2="70.75" y2="146.1" stroke="#777" stroke-width="0.5"/>
<text x="70.15" y="148" font-size="2.5" fill="#333" stroke="none" text-anchor="middle">10<tspan dy="-0.9" font-size="1.7">2</tspan></text>
<line x1="91.88" y1="144.8" x2="91.88" y2="146.1" stroke="#777" stroke-width="0.5"/>
<text x="91.28" y="148" font-size="2.5" fill="#333" stroke="none" text-anchor="middle">10<tspan dy="-0.9" font-size="1.7">3</tspan></text>
<line x1="113" y1="144.8" x2="113" y2="146.1" stroke="#777" stroke-width="0.5"/>
<text x="112.4" y="148" font-size="2.5" fill="#333" stroke="none" text-anchor="middle">10<tspan dy="-0.9" font-size="1.7">4</tspan></text>
<path d="M118.1 144.8V90.1H205" fill="none" stroke="#a8a8a8" stroke-width="0.8"/>
<path d="M118.1 144.8H205" fill="none" stroke="#999" stroke-width="0.6"/>
<path d="M205 90.1V144.8" fill="none" stroke="#cfcfcf" stroke-width="0.8"/>
<line x1="116.9" y1="135.68" x2="118.1" y2="135.68" stroke="#bbb" stroke-width="0.4"/>
<line x1="116.9" y1="126.57" x2="118.1" y2="126.57" stroke="#bbb" stroke-width="0.4"/>
<line x1="116.9" y1="117.45" x2="118.1" y2="117.45" stroke="#bbb" stroke-width="0.4"/>
<line x1="116.9" y1="108.33" x2="118.1" y2="108.33" stroke="#bbb" stroke-width="0.4"/>
<line x1="116.9" y1="99.22" x2="118.1" y2="99.22" stroke="#bbb" stroke-width="0.4"/>
<path d="M120.1 144.8L120.1 144.8L120.5 144.8L120.9 144.8L121.3 144.8L121.7 144.8L122.1 144.8L122.5 144.8L122.9 144.8L123.3 144.8L123.7 144.8L124.1 144.8L124.5 144.8L124.9 144.8L125.3 144.8L125.7 144.73L126.1 144.33L126.5 143.19L126.9 143.21L127.3 141.72L127.7 141.26L128.1 139.15L128.5 141.42L128.9 139.76L129.3 138L129.7 136.26L130.1 133.94L130.5 136.04L130.9 135.23L131.3 133.91L131.7 133.43L132.1 132.35L132.5 128.57L132.9 129.17L133.3 120.86L133.7 120.65L134.1 124.8L134.5 120.45L134.9 120.41L135.3 110.54L135.7 116.47L136.1 111.63L136.5 107.97L136.9 107.21L137.3 104.21L137.7 96.77L138.1 98.26L138.5 95.47L138.9 90.69L139.3 91.38L139.7 94.41L140.1 95.82L140.5 99.38L140.9 99.23L141.3 98.83L141.7 97.9L142.1 103.9L142.5 114.51L142.9 104.35L143.3 107.44L143.7 104.52L144.1 107.45L144.5 109.42L144.9 111.08L145.3 112.1L145.7 120.52L146.1 120.24L146.5 122.95L146.9 122.69L147.3 125.72L147.7 123.82L148.1 123.15L148.5 126.06L148.9 126.19L149.3 131.75L149.7 125.46L150.1 133L150.5 131.42L150.9 133.25L151.3 135.74L151.7 135.69L152.1 136.76L152.5 137.55L152.9 139.79L153.3 137.76L153.7 139.87L154.1 141.35L154.5 139.39L154.9 140.38L155.3 141.9L155.7 142.33L156.1 142.24L156.5 141.95L156.9 143.85L157.3 142.74L157.7 143.81L158.1 144.09L158.5 144.8L158.9 144.8L159.3 144.8L159.7 144.8L160.1 144.8L160.5 144.8L160.9 144.8L161.3 144.8L161.7 144.8L162.1 144.8L162.5 144.8L162.9 144.8L163.3 144.8L163.7 144.8L164.1 144.8L164.5 144.8L164.9 144.8L165.3 144.8L165.7 144.8L166.1 144.8L166.5 144.8L166.9 144.8L167.3 144.8L167.7 144.8L168.1 144.8L168.5 144.8L168.9 144.8L169.3 144.8L169.7 144.8L170.1 144.8L170.5 144.8L170.9 144.8L171.3 144.8L171.7 144.8L172.1 144.8L172.5 144.8L172.9 144.8L173.3 144.8L173.7 144.8L174.1 144.8L174.5 144.8L174.9 144.8L175.3 144.8L175.7 144.8L176.1 144.8L176.1 144.8Z" fill="#b8b8b8" stroke="#aaa" stroke-width="0.4" stroke-linejoin="round"/>
<path d="M121.1 144.8L121.1 144.8L121.5 144.8L121.9 144.8L122.3 144.8L122.7 144.8L123.1 144.8L123.5 144.8L123.9 144.8L124.3 144.8L124.7 144.8L125.1 144.8L125.5 144.47L125.9 144.11L126.3 143.16L126.7 143.23L127.1 143.11L127.5 142.42L127.9 141.34L128.3 141.27L128.7 139.68L129.1 139.65L129.5 138.57L129.9 137.68L130.3 136.16L130.7 133.86L131.1 133.54L131.5 132L131.9 129.04L132.3 129.53L132.7 129.25L133.1 126.66L133.5 121.22L133.9 123.3L134.3 117.14L134.7 121.34L135.1 118.04L135.5 115.08L135.9 109.33L136.3 109.19L136.7 105.26L137.1 104.59L137.5 99.25L137.9 98.63L138.3 101.13L138.7 94.21L139.1 92.72L139.5 100.88L139.9 99.54L140.3 97.6L140.7 98.99L141.1 95.34L141.5 100.63L141.9 103.46L142.3 103.53L142.7 107.72L143.1 108.96L143.5 110L143.9 111.62L144.3 111.41L144.7 116.83L145.1 115.72L145.5 119.15L145.9 122.1L146.3 119.75L146.7 123.84L147.1 125.33L147.5 125L147.9 125.95L148.3 126.96L148.7 129.59L149.1 129.54L149.5 134.5L149.9 133.17L150.3 132.6L150.7 134.41L151.1 135.91L151.5 134.12L151.9 137.05L152.3 138.75L152.7 138.73L153.1 141.08L153.5 139.48L153.9 140.41L154.3 140.01L154.7 141.64L155.1 142.66L155.5 142.3L155.9 143.36L156.3 143.18L156.7 143.94L157.1 144.08L157.5 144.25L157.9 144.51L158.3 144.8L158.7 144.8L159.1 144.8L159.5 144.8L159.9 144.8L160.3 144.8L160.7 144.8L161.1 144.8L161.5 144.8L161.9 144.8L162.3 144.8L162.7 144.8L163.1 144.8L163.5 144.8L163.9 144.8L164.3 144.8L164.7 144.8L165.1 144.8L165.5 144.8L165.9 144.8L166.3 144.8L166.7 144.8L167.1 144.8L167.5 144.8L167.9 144.8L168.3 144.8L168.7 144.8L169.1 144.8L169.5 144.8L169.9 144.8L169.9 144.8Z" fill="#757575" stroke="#7d7d7d" stroke-width="0.3" stroke-linejoin="round"/>
<polyline points="121.1,144.48 121.46,144.43 121.82,144.35 122.18,144.5 122.54,144.4 122.9,144.42 123.26,144.47 123.62,144.45 123.98,144.46 124.34,144.34 124.7,144.39 125.06,144.48 125.42,144.24 125.78,144.03 126.14,143.39 126.5,142.97 126.86,142.4 127.22,141.4 127.58,141.61 127.94,141.29 128.3,141.91 128.66,137.94 129.02,138.23 129.38,139.25 129.74,139.12 130.1,135.56 130.46,135.72 130.82,132.4 131.18,133.99 131.54,133.08 131.9,127.13 132.26,131.28 132.62,126.12 132.98,122.73 133.34,129.42 133.7,122.23 134.06,119.88 134.42,120.93 134.78,118.89 135.14,119.84 135.5,116.36 135.86,111.29 136.22,112.14 136.58,103.16 136.94,113.04 137.3,97.76 137.66,107.39 138.02,95.25 138.38,90.4 138.74,94.37 139.1,107.22 139.46,92.64 139.82,91.17 140.18,90.4 140.54,98.17 140.9,90.4 141.26,91.59 141.62,95.77 141.98,109.28 142.34,104.96 142.7,108.56 143.06,109.74 143.42,96.63 143.78,103.72 144.14,103.14 144.5,118.7 144.86,113.92 145.22,118.29 145.58,118.58 145.94,118.4 146.3,114.48 146.66,121.34 147.02,118.34 147.38,115.18 147.74,120.75 148.1,122.48 148.46,122.37 148.82,130.47 149.18,125.75 149.54,129.67 149.9,134.03 150.26,132.71 150.62,131.6 150.98,135.71 151.34,136.65 151.7,133.96 152.06,137.97 152.42,134.72 152.78,138.03 153.14,139.95 153.5,136.97 153.86,138.82 154.22,140.36 154.58,139.85 154.94,142.17 155.3,141.85 155.66,142.65 156.02,144.04 156.38,141.96 156.74,142.97 157.1,143.08 157.46,143.56 157.82,143.52 158.18,144.46 158.54,144.46 158.9,144.5 159.26,144.48 159.62,144.37 159.98,144.36 160.34,144.39 160.7,144.23 161.06,144.38 161.42,144.38 161.78,144.35 162.14,144.38 162.5,144.46 162.86,144.44 163.22,144.41 163.58,144.46 163.94,144.47 164.3,144.44 164.66,144.48 165.02,144.44 165.38,144.37 165.74,144.47 166.1,144.33 166.46,144.29 166.82,144.45 167.18,144.28 167.54,144.36 167.9,144.21 168.26,144.37 168.62,144.39 168.98,144.31 169.34,144.26 169.7,144.34 170.06,144.32 170.42,144.39 170.78,144.44 171.14,144.48 171.5,144.45 171.86,144.42 172.22,144.48 172.58,144.31 172.94,144.32 173.3,144.41 173.66,144.42 174.02,144.36 174.38,144.44 174.74,144.5 175.1,144.45 175.46,144.42 175.82,144.44" fill="none" stroke="#fff" stroke-width="0.7" stroke-linejoin="round"/>
<polyline points="121.1,144.48 121.46,144.43 121.82,144.35 122.18,144.5 122.54,144.4 122.9,144.42 123.26,144.47 123.62,144.45 123.98,144.46 124.34,144.34 124.7,144.39 125.06,144.48 125.42,144.24 125.78,144.03 126.14,143.39 126.5,142.97 126.86,142.4 127.22,141.4 127.58,141.61 127.94,141.29 128.3,141.91 128.66,137.94 129.02,138.23 129.38,139.25 129.74,139.12 130.1,135.56 130.46,135.72 130.82,132.4 131.18,133.99 131.54,133.08 131.9,127.13 132.26,131.28 132.62,126.12 132.98,122.73 133.34,129.42 133.7,122.23 134.06,119.88 134.42,120.93 134.78,118.89 135.14,119.84 135.5,116.36 135.86,111.29 136.22,112.14 136.58,103.16 136.94,113.04 137.3,97.76 137.66,107.39 138.02,95.25 138.38,90.4 138.74,94.37 139.1,107.22 139.46,92.64 139.82,91.17 140.18,90.4 140.54,98.17 140.9,90.4 141.26,91.59 141.62,95.77 141.98,109.28 142.34,104.96 142.7,108.56 143.06,109.74 143.42,96.63 143.78,103.72 144.14,103.14 144.5,118.7 144.86,113.92 145.22,118.29 145.58,118.58 145.94,118.4 146.3,114.48 146.66,121.34 147.02,118.34 147.38,115.18 147.74,120.75 148.1,122.48 148.46,122.37 148.82,130.47 149.18,125.75 149.54,129.67 149.9,134.03 150.26,132.71 150.62,131.6 150.98,135.71 151.34,136.65 151.7,133.96 152.06,137.97 152.42,134.72 152.78,138.03 153.14,139.95 153.5,136.97 153.86,138.82 154.22,140.36 154.58,139.85 154.94,142.17 155.3,141.85 155.66,142.65 156.02,144.04 156.38,141.96 156.74,142.97 157.1,143.08 157.46,143.56 157.82,143.52 158.18,144.46 158.54,144.46 158.9,144.5 159.26,144.48 159.62,144.37 159.98,144.36 160.34,144.39 160.7,144.23 161.06,144.38 161.42,144.38 161.78,144.35 162.14,144.38 162.5,144.46 162.86,144.44 163.22,144.41 163.58,144.46 163.94,144.47 164.3,144.44 164.66,144.48 165.02,144.44 165.38,144.37 165.74,144.47 166.1,144.33 166.46,144.29 166.82,144.45 167.18,144.28 167.54,144.36 167.9,144.21 168.26,144.37 168.62,144.39 168.98,144.31 169.34,144.26 169.7,144.34 170.06,144.32 170.42,144.39 170.78,144.44 171.14,144.48 171.5,144.45 171.86,144.42 172.22,144.48 172.58,144.31 172.94,144.32 173.3,144.41 173.66,144.42 174.02,144.36 174.38,144.44 174.74,144.5 175.1,144.45 175.46,144.42 175.82,144.44" fill="none" stroke="#111" stroke-width="0.62" stroke-dasharray="1.5 1.0" stroke-linejoin="round"/>
<polyline points="120.1,144.15 120.43,144.3 120.76,144.3 121.09,144.22 121.42,144.28 121.75,143.9 122.08,144.29 122.41,144.21 122.74,144.06 123.07,144.13 123.4,144.11 123.73,144.16 124.06,144.18 124.39,144.3 124.72,143.73 125.05,144.11 125.38,144.26 125.71,143.78 126.04,144.09 126.37,143.78 126.7,143.61 127.03,143.32 127.36,143.43 127.69,143.04 128.02,143.6 128.35,143.13 128.68,143.97 129.01,142.72 129.34,142.63 129.67,142.83 130,142.32 130.33,141.61 130.66,141.54 130.99,140.98 131.32,141.7 131.65,141.32 131.98,138.68 132.31,140.24 132.64,140.31 132.97,139.35 133.3,140.46 133.63,136.79 133.96,138.81 134.29,137.57 134.62,136.06 134.95,134.47 135.28,134.53 135.61,135.69 135.94,133.01 136.27,131.44 136.6,127.84 136.93,129.2 137.26,131.09 137.59,129.47 137.92,130.7 138.25,127.3 138.58,122.78 138.91,125.6 139.24,125.01 139.57,124.96 139.9,123.48 140.23,121.74 140.56,122.45 140.89,121.6 141.22,123.47 141.55,122.33 141.88,118.16 142.21,120.59 142.54,117.52 142.87,123.03 143.2,116.99 143.53,120.43 143.86,118.2 144.19,124.46 144.52,119.41 144.85,119.16 145.18,121.73 145.51,123.45 145.84,120 146.17,114.23 146.5,125.88 146.83,117.26 147.16,121.63 147.49,116.04 147.82,122.48 148.15,115.62 148.48,116.3 148.81,109.95 149.14,121.15 149.47,113.04 149.8,116.03 150.13,115.26 150.46,120.3 150.79,121.24 151.12,120.51 151.45,121.67 151.78,121.72 152.11,117.79 152.44,117.85 152.77,115.35 153.1,115.02 153.43,116.55 153.76,118.52 154.09,117.6 154.42,120.15 154.75,115.01 155.08,115.54 155.41,121.03 155.74,119.7 156.07,120.17 156.4,123.27 156.73,122.85 157.06,120.16 157.39,117.34 157.72,122.8 158.05,120.85 158.38,119.65 158.71,123.54 159.04,122.23 159.37,123.01 159.7,119.09 160.03,123.74 160.36,120.88 160.69,121.85 161.02,126.6 161.35,124.95 161.68,127.91 162.01,123.84 162.34,129.18 162.67,130.16 163,126.17 163.33,133.72 163.66,129.69 163.99,130.32 164.32,135.47 164.65,130.35 164.98,135.01 165.31,134.75 165.64,134.62 165.97,135.53 166.3,135.76 166.63,136.17 166.96,134.45 167.29,135.72 167.62,135.35 167.95,138.32 168.28,136.63 168.61,139.17 168.94,139.5 169.27,136.92 169.6,138.76 169.93,139.27 170.26,139.52 170.59,139.78 170.92,137.92 171.25,141.33 171.58,138.9 171.91,141.26 172.24,142.55 172.57,141.43 172.9,141.07 173.23,142.12 173.56,142.21 173.89,142.47 174.22,142.08 174.55,144.3 174.88,141.9 175.21,143.05 175.54,142.98 175.87,144.3 176.2,142.89 176.53,142.87 176.86,143.03 177.19,143.14 177.52,143.2 177.85,143.74 178.18,142.77 178.51,143.98 178.84,144.08 179.17,143.77 179.5,143.97 179.83,144.05 180.16,144.26 180.49,144.21 180.82,143.65 181.15,144.29 181.48,143.98 181.81,144.3 182.14,143.96 182.47,143.94 182.8,144.25 183.13,144.05 183.46,144.07 183.79,144.12 184.12,144.2 184.45,144.17 184.78,144.22 185.11,144.19 185.44,144.16 185.77,144.09 186.1,144.1 186.43,144.07 186.76,144.04 187.09,144.24 187.42,144.3 187.75,144.11 188.08,144.12 188.41,144.22 188.74,144.2 189.07,144.08 189.4,144.26 189.73,144.11 190.06,144.17 190.39,144.3 190.72,144.28 191.05,144.07 191.38,144.27 191.71,144.2 192.04,144.24 192.37,144.17 192.7,144.15 193.03,144.2 193.36,143.98 193.69,144.19 194.02,144.28 194.35,144.24 194.68,144.18 195.01,144.15 195.34,144.26 195.67,144.26 196,144.12 196.33,144.2 196.66,144.16 196.99,144.2 197.32,144.09 197.65,144.16 197.98,144.17 198.31,144.3 198.64,144.21 198.97,144.19 199.3,144.21 199.63,143.95 199.96,144.09 200.29,144.26 200.62,144.15 200.95,144.08 201.28,144.15 201.61,144 201.94,144.1 202.27,144.04 202.6,143.96 202.93,144.24 203.26,144.2 203.59,144.28 203.92,144.28" fill="none" stroke="#000" stroke-width="1.1" stroke-linejoin="round" stroke-linecap="round"/>
<line x1="120.5" y1="144.8" x2="120.5" y2="146.1" stroke="#777" stroke-width="0.5"/>
<text x="119.9" y="148" font-size="2.5" fill="#333" stroke="none" text-anchor="middle">10<tspan dy="-0.9" font-size="1.7">0</tspan></text>
<line x1="141.62" y1="144.8" x2="141.62" y2="146.1" stroke="#777" stroke-width="0.5"/>
<text x="141.03" y="148" font-size="2.5" fill="#333" stroke="none" text-anchor="middle">10<tspan dy="-0.9" font-size="1.7">1</tspan></text>
<line x1="162.75" y1="144.8" x2="162.75" y2="146.1" stroke="#777" stroke-width="0.5"/>
<text x="162.15" y="148" font-size="2.5" fill="#333" stroke="none" text-anchor="middle">10<tspan dy="-0.9" font-size="1.7">2</tspan></text>
<line x1="183.88" y1="144.8" x2="183.88" y2="146.1" stroke="#777" stroke-width="0.5"/>
<text x="183.28" y="148" font-size="2.5" fill="#333" stroke="none" text-anchor="middle">10<tspan dy="-0.9" font-size="1.7">3</tspan></text>
<line x1="205" y1="144.8" x2="205" y2="146.1" stroke="#777" stroke-width="0.5"/>
<text x="204.4" y="148" font-size="2.5" fill="#333" stroke="none" text-anchor="middle">10<tspan dy="-0.9" font-size="1.7">4</tspan></text>
<line x1="31.4" y1="75.5" x2="201" y2="75.5" stroke="#a8a8a8" stroke-width="1.1"/>
<text x="115.2" y="84.7" font-size="6.2" text-anchor="middle" fill="#111">VCAM-1</text>
<line x1="31.4" y1="154.5" x2="201" y2="154.5" stroke="#808080" stroke-width="0.8"/>
<text x="116.2" y="163.5" font-size="6.2" text-anchor="middle" fill="#111">ICAM-1</text>
<path d="M24.95 201.35V288H155.6" fill="none" stroke="#555" stroke-width="0.85"/>
<line x1="22.75" y1="288" x2="24.95" y2="288" stroke="#555" stroke-width="0.7"/>
<text x="21.15" y="290.05" font-size="5.7" text-anchor="end" fill="#000">0</text>
<line x1="22.75" y1="270.67" x2="24.95" y2="270.67" stroke="#555" stroke-width="0.7"/>
<text x="21.15" y="272.72" font-size="5.7" text-anchor="end" fill="#000">20</text>
<line x1="22.75" y1="253.34" x2="24.95" y2="253.34" stroke="#555" stroke-width="0.7"/>
<text x="21.15" y="255.39" font-size="5.7" text-anchor="end" fill="#000">40</text>
<line x1="22.75" y1="236.01" x2="24.95" y2="236.01" stroke="#555" stroke-width="0.7"/>
<text x="21.15" y="238.06" font-size="5.7" text-anchor="end" fill="#000">60</text>
<line x1="22.75" y1="218.68" x2="24.95" y2="218.68" stroke="#555" stroke-width="0.7"/>
<text x="21.15" y="220.73" font-size="5.7" text-anchor="end" fill="#000">80</text>
<line x1="22.75" y1="201.35" x2="24.95" y2="201.35" stroke="#555" stroke-width="0.7"/>
<text x="21.15" y="203.4" font-size="5.7" text-anchor="end" fill="#000">100</text>
<line x1="24.95" y1="288" x2="24.95" y2="290.2" stroke="#555" stroke-width="0.7"/>
<text x="24.95" y="296.7" font-size="5.7" text-anchor="middle" fill="#000">0</text>
<line x1="68.5" y1="288" x2="68.5" y2="290.2" stroke="#555" stroke-width="0.7"/>
<text x="68.5" y="296.7" font-size="5.7" text-anchor="middle" fill="#000">10</text>
<line x1="112.05" y1="288" x2="112.05" y2="290.2" stroke="#555" stroke-width="0.7"/>
<text x="112.05" y="296.7" font-size="5.7" text-anchor="middle" fill="#000">20</text>
<line x1="155.6" y1="288" x2="155.6" y2="290.2" stroke="#555" stroke-width="0.7"/>
<text x="155.6" y="296.7" font-size="5.7" text-anchor="middle" fill="#000">30</text>
<text x="90.48" y="304.5" font-size="6.05" text-anchor="middle" fill="#000">Days after BMT</text>
<text transform="translate(5.95 246.88) rotate(-90)" font-size="5.8" text-anchor="middle" fill="#000">Percent survival</text>
<path d="M24.95 201.35H155.6" fill="none" stroke="#2a2a2a" stroke-width="0.85"/>
<path d="M59.79 201.35H59.79V208.02H90.28V214.68H146.89V228.01H151.25V234.68H155.6" fill="none" stroke="#444" stroke-width="0.9"/>
<path d="M55.44 201.35H55.44V221.35H59.79V228.01H68.5V234.68H90.28V241.34H107.7V248.01H116.41V254.67H120.76V261.34H142.53V268H146.89V274.67H155.6" fill="none" stroke="#111" stroke-width="0.75"/>
<circle cx="155.6" cy="201.35" r="1.8" fill="#fff" stroke="#000" stroke-width="0.7"/>
<rect x="58.24" y="206.47" width="3.1" height="3.1" fill="#a8a8a8" stroke="#000" stroke-width="0.75"/>
<rect x="57.89" y="206.12" width="2.5" height="3.8" fill="#000"/>
<rect x="88.73" y="213.13" width="3.1" height="3.1" fill="#a8a8a8" stroke="#000" stroke-width="0.75"/>
<rect x="88.38" y="212.78" width="2.5" height="3.8" fill="#000"/>
<rect x="145.34" y="226.46" width="3.1" height="3.1" fill="#a8a8a8" stroke="#000" stroke-width="0.75"/>
<rect x="144.99" y="226.11" width="2.5" height="3.8" fill="#000"/>
<rect x="149.69" y="233.13" width="3.1" height="3.1" fill="#a8a8a8" stroke="#000" stroke-width="0.75"/>
<rect x="149.34" y="232.78" width="2.5" height="3.8" fill="#000"/>
<rect x="154.05" y="233.13" width="3.1" height="3.1" fill="#a8a8a8" stroke="#000" stroke-width="0.75"/>
<rect x="153.7" y="232.78" width="2.5" height="3.8" fill="#000"/>
<circle cx="55.44" cy="221.35" r="1.55" fill="#a8a8a8" stroke="#000" stroke-width="0.75"/>
<path d="M55.94 219.5A1.9 1.9 0 0 0 55.94 223.2Z" fill="#000"/>
<circle cx="59.79" cy="228.01" r="1.55" fill="#a8a8a8" stroke="#000" stroke-width="0.75"/>
<path d="M60.29 226.16A1.9 1.9 0 0 0 60.29 229.86Z" fill="#000"/>
<circle cx="68.5" cy="234.68" r="1.55" fill="#a8a8a8" stroke="#000" stroke-width="0.75"/>
<path d="M69 232.83A1.9 1.9 0 0 0 69 236.53Z" fill="#000"/>
<circle cx="90.28" cy="241.34" r="1.55" fill="#a8a8a8" stroke="#000" stroke-width="0.75"/>
<path d="M90.78 239.49A1.9 1.9 0 0 0 90.78 243.19Z" fill="#000"/>
<circle cx="107.7" cy="248.01" r="1.55" fill="#a8a8a8" stroke="#000" stroke-width="0.75"/>
<path d="M108.2 246.16A1.9 1.9 0 0 0 108.2 249.86Z" fill="#000"/>
<circle cx="116.41" cy="254.67" r="1.55" fill="#a8a8a8" stroke="#000" stroke-width="0.75"/>
<path d="M116.91 252.82A1.9 1.9 0 0 0 116.91 256.52Z" fill="#000"/>
<circle cx="120.76" cy="261.34" r="1.55" fill="#a8a8a8" stroke="#000" stroke-width="0.75"/>
<path d="M121.26 259.49A1.9 1.9 0 0 0 121.26 263.19Z" fill="#000"/>
<circle cx="142.53" cy="268" r="1.55" fill="#a8a8a8" stroke="#000" stroke-width="0.75"/>
<path d="M143.03 266.15A1.9 1.9 0 0 0 143.03 269.85Z" fill="#000"/>
<circle cx="146.89" cy="274.67" r="1.55" fill="#a8a8a8" stroke="#000" stroke-width="0.75"/>
<path d="M147.39 272.82A1.9 1.9 0 0 0 147.39 276.52Z" fill="#000"/>
<circle cx="155.6" cy="274.67" r="1.55" fill="#a8a8a8" stroke="#000" stroke-width="0.75"/>
<path d="M156.1 272.82A1.9 1.9 0 0 0 156.1 276.52Z" fill="#000"/>
<circle cx="153.55" cy="266.3" r="0.8" fill="#000"/>
<path d="M153.55 266.3m0 -1.3v2.6m-1.12 -1.95l2.24 1.3m0 -1.3l-2.24 1.3" stroke="#000" stroke-width="0.5" fill="none"/>
<circle cx="156.45" cy="266.3" r="0.8" fill="#000"/>
<path d="M156.45 266.3m0 -1.3v2.6m-1.12 -1.95l2.24 1.3m0 -1.3l-2.24 1.3" stroke="#000" stroke-width="0.5" fill="none"/>
<path d="M195.1 201.35V288H325.9" fill="none" stroke="#555" stroke-width="0.85"/>
<line x1="192.9" y1="288" x2="195.1" y2="288" stroke="#555" stroke-width="0.7"/>
<text x="191.3" y="290.05" font-size="5.7" text-anchor="end" fill="#000">0</text>
<line x1="192.9" y1="270.67" x2="195.1" y2="270.67" stroke="#555" stroke-width="0.7"/>
<text x="191.3" y="272.72" font-size="5.7" text-anchor="end" fill="#000">20</text>
<line x1="192.9" y1="253.34" x2="195.1" y2="253.34" stroke="#555" stroke-width="0.7"/>
<text x="191.3" y="255.39" font-size="5.7" text-anchor="end" fill="#000">40</text>
<line x1="192.9" y1="236.01" x2="195.1" y2="236.01" stroke="#555" stroke-width="0.7"/>
<text x="191.3" y="238.06" font-size="5.7" text-anchor="end" fill="#000">60</text>
<line x1="192.9" y1="218.68" x2="195.1" y2="218.68" stroke="#555" stroke-width="0.7"/>
<text x="191.3" y="220.73" font-size="5.7" text-anchor="end" fill="#000">80</text>
<line x1="192.9" y1="201.35" x2="195.1" y2="201.35" stroke="#555" stroke-width="0.7"/>
<text x="191.3" y="203.4" font-size="5.7" text-anchor="end" fill="#000">100</text>
<line x1="195.1" y1="288" x2="195.1" y2="290.2" stroke="#555" stroke-width="0.7"/>
<text x="195.1" y="296.7" font-size="5.7" text-anchor="middle" fill="#000">0</text>
<line x1="238.7" y1="288" x2="238.7" y2="290.2" stroke="#555" stroke-width="0.7"/>
<text x="238.7" y="296.7" font-size="5.7" text-anchor="middle" fill="#000">10</text>
<line x1="282.3" y1="288" x2="282.3" y2="290.2" stroke="#555" stroke-width="0.7"/>
<text x="282.3" y="296.7" font-size="5.7" text-anchor="middle" fill="#000">20</text>
<line x1="325.9" y1="288" x2="325.9" y2="290.2" stroke="#555" stroke-width="0.7"/>
<text x="325.9" y="296.7" font-size="5.7" text-anchor="middle" fill="#000">30</text>
<text x="260.7" y="304.5" font-size="6.05" text-anchor="middle" fill="#000">Days after BMT</text>
<text transform="translate(176.1 246.88) rotate(-90)" font-size="5.8" text-anchor="middle" fill="#000">Percent survival</text>
<path d="M195.1 201.35H325.9" fill="none" stroke="#2a2a2a" stroke-width="0.85"/>
<path d="M277.94 201.35H277.94V207.54H286.66V213.73H295.38V219.92H304.1V226.11H317.18V238.49H321.54V244.68H325.9" fill="none" stroke="#1a1a1a" stroke-width="0.68"/>
<path d="M229.98 201.35H229.98V207.54H234.34V213.73H256.14V219.92H260.5V226.11H291.02V232.3H295.38V238.49H304.1V244.68H308.46V257.05H312.82V269.43H317.18V275.62H325.9" fill="none" stroke="#1a1a1a" stroke-width="0.68"/>
<circle cx="325.9" cy="201.35" r="1.8" fill="#fff" stroke="#000" stroke-width="0.7"/>
<rect x="276.04" y="205.64" width="3.8" height="3.8" fill="#000"/>
<rect x="284.76" y="211.83" width="3.8" height="3.8" fill="#000"/>
<rect x="293.48" y="218.02" width="3.8" height="3.8" fill="#000"/>
<rect x="302.2" y="224.21" width="3.8" height="3.8" fill="#000"/>
<rect x="315.28" y="236.59" width="3.8" height="3.8" fill="#000"/>
<rect x="319.64" y="242.78" width="3.8" height="3.8" fill="#000"/>
<rect x="324" y="242.78" width="3.8" height="3.8" fill="#000"/>
<circle cx="229.98" cy="207.54" r="2.05" fill="#000"/>
<circle cx="234.34" cy="213.73" r="2.05" fill="#000"/>
<circle cx="256.14" cy="219.92" r="2.05" fill="#000"/>
<circle cx="260.5" cy="226.11" r="2.05" fill="#000"/>
<circle cx="291.02" cy="232.3" r="2.05" fill="#000"/>
<circle cx="295.38" cy="238.49" r="2.05" fill="#000"/>
<circle cx="304.1" cy="244.68" r="2.05" fill="#000"/>
<circle cx="308.46" cy="257.05" r="2.05" fill="#000"/>
<circle cx="312.82" cy="269.43" r="2.05" fill="#000"/>
<circle cx="317.18" cy="275.62" r="2.05" fill="#000"/>
<circle cx="325.9" cy="275.62" r="2.05" fill="#000"/>
<circle cx="325.6" cy="271.2" r="0.8" fill="#000"/>
<path d="M325.6 271.2m0 -1.3v2.6m-1.12 -1.95l2.24 1.3m0 -1.3l-2.24 1.3" stroke="#000" stroke-width="0.5" fill="none"/>
<path d="M385.95 201.4V288.6H516.9" fill="none" stroke="#999" stroke-width="0.75"/>
<line x1="383.75" y1="288.6" x2="385.95" y2="288.6" stroke="#999" stroke-width="0.7"/>
<text x="382.15" y="290.65" font-size="5.7" text-anchor="end" fill="#000">0</text>
<line x1="383.75" y1="266.8" x2="385.95" y2="266.8" stroke="#999" stroke-width="0.7"/>
<text x="382.15" y="268.85" font-size="5.7" text-anchor="end" fill="#000">25</text>
<line x1="383.75" y1="245" x2="385.95" y2="245" stroke="#999" stroke-width="0.7"/>
<text x="382.15" y="247.05" font-size="5.7" text-anchor="end" fill="#000">50</text>
<line x1="383.75" y1="223.2" x2="385.95" y2="223.2" stroke="#999" stroke-width="0.7"/>
<text x="382.15" y="225.25" font-size="5.7" text-anchor="end" fill="#000">75</text>
<line x1="383.75" y1="201.4" x2="385.95" y2="201.4" stroke="#999" stroke-width="0.7"/>
<text x="382.15" y="203.45" font-size="5.7" text-anchor="end" fill="#000">100</text>
<line x1="385.95" y1="288.6" x2="385.95" y2="290.8" stroke="#999" stroke-width="0.7"/>
<text x="385.95" y="297.3" font-size="5.7" text-anchor="middle" fill="#000">0</text>
<line x1="429.6" y1="288.6" x2="429.6" y2="290.8" stroke="#999" stroke-width="0.7"/>
<text x="429.6" y="297.3" font-size="5.7" text-anchor="middle" fill="#000">10</text>
<line x1="473.25" y1="288.6" x2="473.25" y2="290.8" stroke="#999" stroke-width="0.7"/>
<text x="473.25" y="297.3" font-size="5.7" text-anchor="middle" fill="#000">20</text>
<line x1="516.9" y1="288.6" x2="516.9" y2="290.8" stroke="#999" stroke-width="0.7"/>
<text x="516.9" y="297.3" font-size="5.7" text-anchor="middle" fill="#000">30</text>
<text x="451.62" y="305" font-size="6.05" text-anchor="middle" fill="#000">Days after BMT</text>
<text transform="translate(366.95 247.2) rotate(-90)" font-size="5.8" text-anchor="middle" fill="#000">Percent survival</text>
<path d="M385.95 201.4H503.81" fill="none" stroke="#555" stroke-width="1.15"/>
<path d="M503.81 201.4H503.81V213.86H512.53V220.09H516.9V226.31" fill="none" stroke="#777" stroke-width="0.7"/>
<path d="M407.77 201.4H407.77V209.33H516.9" fill="none" stroke="#5a5a5a" stroke-width="0.95"/>
<path d="M416.5 201.4H416.5V206.85H420.87V212.3H455.79V217.75H473.25V228.65H481.98V239.55H490.71V245H503.81V261.35H512.53V277.7H516.9" fill="none" stroke="#555" stroke-width="0.75"/>
<rect x="501.91" y="211.96" width="3.8" height="3.8" fill="#000"/>
<rect x="510.63" y="218.19" width="3.8" height="3.8" fill="#000"/>
<rect x="515" y="224.41" width="3.8" height="3.8" fill="#000"/>
<circle cx="407.77" cy="209.33" r="1.8" fill="#fff" stroke="#333" stroke-width="0.7"/>
<circle cx="516.9" cy="209.33" r="1.8" fill="#fff" stroke="#333" stroke-width="0.7"/>
<circle cx="416.5" cy="206.85" r="2.05" fill="#000"/>
<circle cx="420.87" cy="212.3" r="2.05" fill="#000"/>
<circle cx="455.79" cy="217.75" r="2.05" fill="#000"/>
<circle cx="473.25" cy="228.65" r="2.05" fill="#000"/>
<circle cx="481.98" cy="239.55" r="2.05" fill="#000"/>
<circle cx="490.71" cy="245" r="2.05" fill="#000"/>
<circle cx="503.81" cy="261.35" r="2.05" fill="#000"/>
<circle cx="512.53" cy="277.7" r="2.05" fill="#000"/>
<circle cx="516.9" cy="277.7" r="2.05" fill="#000"/>
<circle cx="511.7" cy="256.2" r="0.8" fill="#000"/>
<path d="M511.7 256.2m0 -1.3v2.6m-1.12 -1.95l2.24 1.3m0 -1.3l-2.24 1.3" stroke="#000" stroke-width="0.5" fill="none"/>
<circle cx="514.6" cy="256.2" r="0.8" fill="#000"/>
<path d="M514.6 256.2m0 -1.3v2.6m-1.12 -1.95l2.24 1.3m0 -1.3l-2.24 1.3" stroke="#000" stroke-width="0.5" fill="none"/>
<circle cx="517.5" cy="256.2" r="0.8" fill="#000"/>
<path d="M517.5 256.2m0 -1.3v2.6m-1.12 -1.95l2.24 1.3m0 -1.3l-2.24 1.3" stroke="#000" stroke-width="0.5" fill="none"/>
<line x1="45.9" y1="321.3" x2="55.9" y2="321.3" stroke="#222" stroke-width="0.9"/>
<circle cx="50.9" cy="321.3" r="1.8" fill="#fff" stroke="#000" stroke-width="0.7"/>
<path d="M96 321.5h3.2" stroke="#333" stroke-width="0.5" fill="none"/>
<path d="M100.4 321.5l-1.9 -1.15v2.3z" fill="#222"/>
<text font-size="5.9" fill="#111" xml:space="preserve"><tspan x="60.7" y="323.5">B6.WT TCD</tspan><tspan x="103.5" y="323.5">BALB/c + IgG</tspan></text>
<line x1="45.9" y1="331.4" x2="55.9" y2="331.4" stroke="#222" stroke-width="0.9"/>
<rect x="49.35" y="329.85" width="3.1" height="3.1" fill="#a8a8a8" stroke="#000" stroke-width="0.75"/>
<rect x="49" y="329.5" width="2.5" height="3.8" fill="#000"/>
<path d="M83.2 331.6h3.2" stroke="#333" stroke-width="0.5" fill="none"/>
<path d="M87.6 331.6l-1.9 -1.15v2.3z" fill="#222"/>
<text font-size="5.9" fill="#111" xml:space="preserve"><tspan x="60.7" y="333.6">B6.WT</tspan><tspan x="89.4" y="333.6">BALB/c + TNFR:Fc</tspan></text>
<line x1="45.9" y1="341.4" x2="55.9" y2="341.4" stroke="#222" stroke-width="0.9"/>
<circle cx="50.9" cy="341.4" r="1.55" fill="#a8a8a8" stroke="#000" stroke-width="0.75"/>
<path d="M51.4 339.55A1.9 1.9 0 0 0 51.4 343.25Z" fill="#000"/>
<path d="M78.8 341.6h3.2" stroke="#333" stroke-width="0.5" fill="none"/>
<path d="M83.2 341.6l-1.9 -1.15v2.3z" fill="#222"/>
<text font-size="5.9" fill="#111" xml:space="preserve"><tspan x="60.7" y="343.6">B6.WT</tspan><tspan x="86.8" y="343.6">BALB/c + IgG</tspan></text>
<line x1="210.8" y1="321.9" x2="220.8" y2="321.9" stroke="#222" stroke-width="0.9"/>
<circle cx="215.8" cy="321.9" r="1.8" fill="#fff" stroke="#000" stroke-width="0.7"/>
<path d="M260.5 322.1h3.2" stroke="#333" stroke-width="0.5" fill="none"/>
<path d="M264.9 322.1l-1.9 -1.15v2.3z" fill="#222"/>
<text font-size="5.9" fill="#111" xml:space="preserve"><tspan x="225.2" y="324.1">B6.WT TCD</tspan><tspan x="268" y="324.1">BALB/c + IgG</tspan></text>
<line x1="210.8" y1="331" x2="220.8" y2="331" stroke="#222" stroke-width="0.9"/>
<rect x="213.9" y="329.1" width="3.8" height="3.8" fill="#000"/>
<path d="M249.5 331.2h3.2" stroke="#333" stroke-width="0.5" fill="none"/>
<path d="M253.9 331.2l-1.9 -1.15v2.3z" fill="#222"/>
<text font-size="5.9" fill="#111" xml:space="preserve"><tspan x="225.2" y="333.2">B6.<tspan font-style="italic">Tnf</tspan><tspan dy="-2.3" font-size="3.3">−/−</tspan><tspan dy="2.3" font-size="1"> </tspan></tspan><tspan x="256.9" y="333.2">BALB/c + TNFR:Fc</tspan></text>
<line x1="210.8" y1="339.9" x2="220.8" y2="339.9" stroke="#222" stroke-width="0.9"/>
<circle cx="215.8" cy="339.9" r="2.05" fill="#000"/>
<path d="M249.5 340.1h3.2" stroke="#333" stroke-width="0.5" fill="none"/>
<path d="M253.9 340.1l-1.9 -1.15v2.3z" fill="#222"/>
<text font-size="5.9" fill="#111" xml:space="preserve"><tspan x="225.2" y="342.1">B6.<tspan font-style="italic">Tnf</tspan><tspan dy="-2.3" font-size="3.3">−/−</tspan><tspan dy="2.3" font-size="1"> </tspan></tspan><tspan x="256.9" y="342.1">BALB/c + IgG</tspan></text>
<line x1="399.8" y1="322.6" x2="409.8" y2="322.6" stroke="#999" stroke-width="0.9"/>
<circle cx="404.8" cy="322.6" r="1.8" fill="#fff" stroke="#888" stroke-width="0.7"/>
<path d="M456.2 322.8h3.2" stroke="#333" stroke-width="0.5" fill="none"/>
<path d="M460.6 322.8l-1.9 -1.15v2.3z" fill="#222"/>
<text font-size="5.9" fill="#111" xml:space="preserve"><tspan x="415.3" y="324.8">B6.<tspan font-style="italic">Tnf</tspan><tspan dy="-2.3" font-size="3.3">−/−</tspan><tspan dy="2.3" font-size="1"> </tspan></tspan><tspan x="438.6" y="324.8">(TCD)</tspan><tspan x="464.2" y="324.8">B6D2F1 + IgG</tspan></text>
<line x1="399.8" y1="332" x2="409.8" y2="332" stroke="#222" stroke-width="0.9"/>
<rect x="402.9" y="330.1" width="3.8" height="3.8" fill="#000"/>
<path d="M438.9 332.2h3.2" stroke="#333" stroke-width="0.5" fill="none"/>
<path d="M443.3 332.2l-1.9 -1.15v2.3z" fill="#222"/>
<text font-size="5.9" fill="#111" xml:space="preserve"><tspan x="415.3" y="334.2">B6.<tspan font-style="italic">Tnf</tspan><tspan dy="-2.3" font-size="3.3">−/−</tspan><tspan dy="2.3" font-size="1"> </tspan></tspan><tspan x="446.9" y="334.2">B6D2F1 + TNFR:Fc</tspan></text>
<line x1="399.8" y1="341.2" x2="409.8" y2="341.2" stroke="#222" stroke-width="0.9"/>
<circle cx="404.8" cy="341.2" r="2.05" fill="#000"/>
<path d="M438.9 341.4h3.2" stroke="#333" stroke-width="0.5" fill="none"/>
<path d="M443.3 341.4l-1.9 -1.15v2.3z" fill="#222"/>
<text font-size="5.9" fill="#111" xml:space="preserve"><tspan x="415.3" y="343.4">B6.<tspan font-style="italic">Tnf</tspan><tspan dy="-2.3" font-size="3.3">−/−</tspan><tspan dy="2.3" font-size="1"> </tspan></tspan><tspan x="446.9" y="343.4">B6D2F1 + IgG</tspan></text>
</g>
</svg></body></html>
